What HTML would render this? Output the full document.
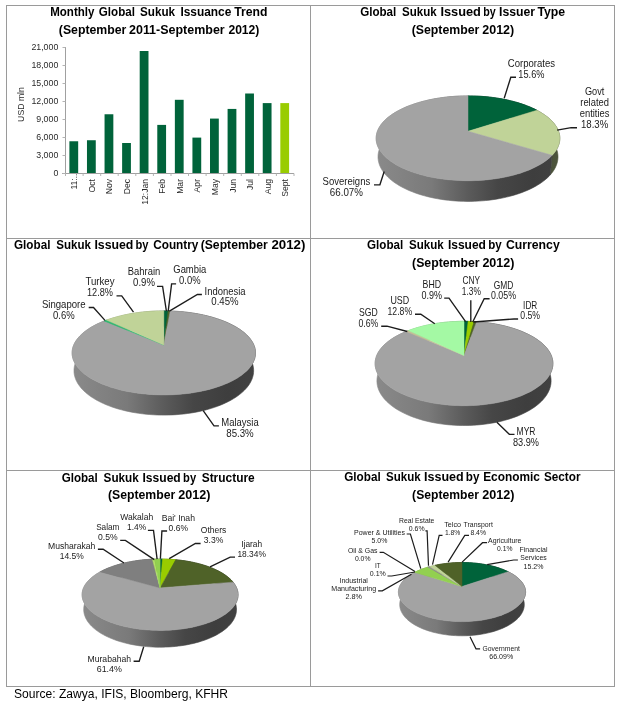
<!DOCTYPE html>
<html><head><meta charset="utf-8"><title>Global Sukuk Issuance</title>
<style>html,body{margin:0;padding:0;background:#fff}svg{display:block}</style></head>
<body>
<svg width="624" height="705" viewBox="0 0 624 705" font-family='"Liberation Sans", Arial, sans-serif'>
<rect width="624" height="705" fill="#fff"/>
<g stroke="#9a9a9a" stroke-width="1" fill="none" shape-rendering="crispEdges">
<rect x="6.5" y="5.5" width="608" height="681"/>
<line x1="310.5" y1="5.5" x2="310.5" y2="686.5"/>
<line x1="6.5" y1="238.5" x2="614.5" y2="238.5"/>
<line x1="6.5" y1="470.5" x2="614.5" y2="470.5"/>
</g>
<text x="50.2" y="16.0" font-size="12" font-weight="bold" textLength="44.2" lengthAdjust="spacingAndGlyphs" fill="#000" xml:space="preserve">Monthly</text>
<text x="98.8" y="16.0" font-size="12" font-weight="bold" textLength="36.1" lengthAdjust="spacingAndGlyphs" fill="#000" xml:space="preserve">Global</text>
<text x="140.0" y="16.0" font-size="12" font-weight="bold" textLength="35.1" lengthAdjust="spacingAndGlyphs" fill="#000" xml:space="preserve">Sukuk</text>
<text x="180.4" y="16.0" font-size="12" font-weight="bold" textLength="50.9" lengthAdjust="spacingAndGlyphs" fill="#000" xml:space="preserve">Issuance</text>
<text x="234.2" y="16.0" font-size="12" font-weight="bold" textLength="33.2" lengthAdjust="spacingAndGlyphs" fill="#000" xml:space="preserve">Trend</text>
<text x="58.8" y="34.0" font-size="12" font-weight="bold" textLength="67.5" lengthAdjust="spacingAndGlyphs" fill="#000" xml:space="preserve">(September</text>
<text x="129.0" y="34.0" font-size="12" font-weight="bold" textLength="95.7" lengthAdjust="spacingAndGlyphs" fill="#000" xml:space="preserve">2011-September</text>
<text x="228.4" y="34.0" font-size="12" font-weight="bold" textLength="31.0" lengthAdjust="spacingAndGlyphs" fill="#000" xml:space="preserve">2012)</text>
<g stroke="#a0a0a0" stroke-width="1" shape-rendering="crispEdges">
<line x1="65.5" y1="47" x2="65.5" y2="173.5"/>
<line x1="62" y1="173.5" x2="294" y2="173.5"/>
</g>
<g stroke="#b4b4b4" stroke-width="1">
<line x1="62.5" y1="47.5" x2="65.5" y2="47.5"/>
<line x1="62.5" y1="65.5" x2="65.5" y2="65.5"/>
<line x1="62.5" y1="83.5" x2="65.5" y2="83.5"/>
<line x1="62.5" y1="101.5" x2="65.5" y2="101.5"/>
<line x1="62.5" y1="119.5" x2="65.5" y2="119.5"/>
<line x1="62.5" y1="137.5" x2="65.5" y2="137.5"/>
<line x1="62.5" y1="155.5" x2="65.5" y2="155.5"/>
<line x1="62.5" y1="173.5" x2="65.5" y2="173.5"/>
<line x1="65.5" y1="173.5" x2="65.5" y2="176"/>
<line x1="83.1" y1="173.5" x2="83.1" y2="176"/>
<line x1="100.7" y1="173.5" x2="100.7" y2="176"/>
<line x1="118.2" y1="173.5" x2="118.2" y2="176"/>
<line x1="135.8" y1="173.5" x2="135.8" y2="176"/>
<line x1="153.4" y1="173.5" x2="153.4" y2="176"/>
<line x1="171.0" y1="173.5" x2="171.0" y2="176"/>
<line x1="188.5" y1="173.5" x2="188.5" y2="176"/>
<line x1="206.1" y1="173.5" x2="206.1" y2="176"/>
<line x1="223.7" y1="173.5" x2="223.7" y2="176"/>
<line x1="241.3" y1="173.5" x2="241.3" y2="176"/>
<line x1="258.8" y1="173.5" x2="258.8" y2="176"/>
<line x1="276.4" y1="173.5" x2="276.4" y2="176"/>
<line x1="294.0" y1="173.5" x2="294.0" y2="176"/>
</g>
<text x="58.3" y="50.2" font-size="8.8" text-anchor="end" fill="#2a2a2a" xml:space="preserve">21,000</text>
<text x="58.3" y="68.2" font-size="8.8" text-anchor="end" fill="#2a2a2a" xml:space="preserve">18,000</text>
<text x="58.3" y="86.2" font-size="8.8" text-anchor="end" fill="#2a2a2a" xml:space="preserve">15,000</text>
<text x="58.3" y="104.2" font-size="8.8" text-anchor="end" fill="#2a2a2a" xml:space="preserve">12,000</text>
<text x="58.3" y="122.2" font-size="8.8" text-anchor="end" fill="#2a2a2a" xml:space="preserve">9,000</text>
<text x="58.3" y="140.2" font-size="8.8" text-anchor="end" fill="#2a2a2a" xml:space="preserve">6,000</text>
<text x="58.3" y="158.2" font-size="8.8" text-anchor="end" fill="#2a2a2a" xml:space="preserve">3,000</text>
<text x="58.3" y="176.2" font-size="8.8" text-anchor="end" fill="#2a2a2a" xml:space="preserve">0</text>
<rect x="69.39" y="141.26" width="8.79" height="31.74" fill="#00633a"/>
<text transform="translate(77.3,173.5) rotate(-90)" font-size="8.6" text-anchor="end" fill="#2a2a2a">11:..</text>
<rect x="86.97" y="140.24" width="8.79" height="32.76" fill="#00633a"/>
<text transform="translate(94.9,179) rotate(-90)" font-size="8.6" text-anchor="end" fill="#2a2a2a">Oct</text>
<rect x="104.55" y="114.26" width="8.79" height="58.74" fill="#00633a"/>
<text transform="translate(112.4,179) rotate(-90)" font-size="8.6" text-anchor="end" fill="#2a2a2a">Nov</text>
<rect x="122.12" y="143.00" width="8.79" height="30.00" fill="#00633a"/>
<text transform="translate(130.0,179) rotate(-90)" font-size="8.6" text-anchor="end" fill="#2a2a2a">Dec</text>
<rect x="139.70" y="51.00" width="8.79" height="122.00" fill="#00633a"/>
<text transform="translate(147.6,179) rotate(-90)" font-size="8.6" text-anchor="end" fill="#2a2a2a">12:Jan</text>
<rect x="157.28" y="124.90" width="8.79" height="48.10" fill="#00633a"/>
<text transform="translate(165.2,179) rotate(-90)" font-size="8.6" text-anchor="end" fill="#2a2a2a">Feb</text>
<rect x="174.86" y="99.80" width="8.79" height="73.20" fill="#00633a"/>
<text transform="translate(182.8,179) rotate(-90)" font-size="8.6" text-anchor="end" fill="#2a2a2a">Mar</text>
<rect x="192.43" y="137.60" width="8.79" height="35.40" fill="#00633a"/>
<text transform="translate(200.3,179) rotate(-90)" font-size="8.6" text-anchor="end" fill="#2a2a2a">Apr</text>
<rect x="210.01" y="118.58" width="8.79" height="54.42" fill="#00633a"/>
<text transform="translate(217.9,179) rotate(-90)" font-size="8.6" text-anchor="end" fill="#2a2a2a">May</text>
<rect x="227.59" y="108.92" width="8.79" height="64.08" fill="#00633a"/>
<text transform="translate(235.5,179) rotate(-90)" font-size="8.6" text-anchor="end" fill="#2a2a2a">Jun</text>
<rect x="245.16" y="93.50" width="8.79" height="79.50" fill="#00633a"/>
<text transform="translate(253.1,179) rotate(-90)" font-size="8.6" text-anchor="end" fill="#2a2a2a">Jul</text>
<rect x="262.74" y="103.10" width="8.79" height="69.90" fill="#00633a"/>
<text transform="translate(270.6,179) rotate(-90)" font-size="8.6" text-anchor="end" fill="#2a2a2a">Aug</text>
<rect x="280.32" y="103.10" width="8.79" height="69.90" fill="#99cc00"/>
<text transform="translate(288.2,179) rotate(-90)" font-size="8.6" text-anchor="end" fill="#2a2a2a">Sept</text>
<text transform="translate(23.8,104.5) rotate(-90)" font-size="8.7" text-anchor="middle" fill="#2a2a2a">USD mln</text>
<text x="360.2" y="16.0" font-size="12" font-weight="bold" textLength="36.1" lengthAdjust="spacingAndGlyphs" fill="#000" xml:space="preserve">Global</text>
<text x="402.1" y="16.0" font-size="12" font-weight="bold" textLength="34.6" lengthAdjust="spacingAndGlyphs" fill="#000" xml:space="preserve">Sukuk</text>
<text x="440.4" y="16.0" font-size="12" font-weight="bold" textLength="40.5" lengthAdjust="spacingAndGlyphs" fill="#000" xml:space="preserve">Issued</text>
<text x="483.2" y="16.0" font-size="12" font-weight="bold" textLength="12.5" lengthAdjust="spacingAndGlyphs" fill="#000" xml:space="preserve">by</text>
<text x="499.0" y="16.0" font-size="12" font-weight="bold" textLength="36.1" lengthAdjust="spacingAndGlyphs" fill="#000" xml:space="preserve">Issuer</text>
<text x="537.4" y="16.0" font-size="12" font-weight="bold" textLength="27.7" lengthAdjust="spacingAndGlyphs" fill="#000" xml:space="preserve">Type</text>
<text x="411.7" y="34.0" font-size="12" font-weight="bold" textLength="67.7" lengthAdjust="spacingAndGlyphs" fill="#000" xml:space="preserve">(September</text>
<text x="482.3" y="34.0" font-size="12" font-weight="bold" textLength="31.9" lengthAdjust="spacingAndGlyphs" fill="#000" xml:space="preserve">2012)</text>
<defs>
<linearGradient id="g1_0" gradientUnits="userSpaceOnUse" x1="376.1" y1="0" x2="559.9" y2="0"><stop offset="0" stop-color="#005431"/><stop offset="0.3" stop-color="#004a2b"/><stop offset="0.5" stop-color="#003720"/><stop offset="0.66" stop-color="#002a18"/><stop offset="0.85" stop-color="#002616"/><stop offset="1" stop-color="#002717"/></linearGradient>
<linearGradient id="g1_1" gradientUnits="userSpaceOnUse" x1="376.1" y1="0" x2="559.9" y2="0"><stop offset="0" stop-color="#8a8a8a"/><stop offset="0.3" stop-color="#7a7a7a"/><stop offset="0.5" stop-color="#5b5b5b"/><stop offset="0.66" stop-color="#464646"/><stop offset="0.85" stop-color="#3e3e3e"/><stop offset="1" stop-color="#414141"/></linearGradient>
<linearGradient id="g1_2" gradientUnits="userSpaceOnUse" x1="376.1" y1="0" x2="559.9" y2="0"><stop offset="0" stop-color="#a3b381"/><stop offset="0.3" stop-color="#909e72"/><stop offset="0.5" stop-color="#6b7655"/><stop offset="0.66" stop-color="#525a41"/><stop offset="0.85" stop-color="#49513a"/><stop offset="1" stop-color="#4c543c"/></linearGradient>
</defs>
<path d="M468.00,95.90 L470.72,95.92 L473.44,95.97 L476.16,96.07 L478.87,96.20 L481.57,96.37 L484.27,96.57 L486.95,96.81 L489.62,97.09 L492.27,97.41 L494.91,97.76 L497.52,98.15 L500.12,98.58 L502.69,99.04 L505.23,99.54 L507.75,100.08 L510.24,100.65 L512.69,101.26 L515.11,101.90 L517.50,102.58 L519.84,103.30 L522.15,104.05 L524.41,104.84 L526.62,105.66 L528.79,106.52 L530.91,107.41 L532.97,108.33 L534.98,109.29 L536.93,110.28 L535.69,127.46 L533.78,126.42 L531.81,125.41 L529.79,124.43 L527.71,123.49 L525.59,122.59 L523.42,121.72 L521.20,120.89 L518.94,120.09 L516.64,119.33 L514.30,118.62 L511.92,117.93 L509.51,117.29 L507.07,116.68 L504.59,116.12 L502.09,115.59 L499.57,115.10 L497.02,114.65 L494.45,114.23 L491.86,113.86 L489.25,113.53 L486.63,113.23 L483.99,112.98 L481.34,112.76 L478.69,112.58 L476.02,112.44 L473.35,112.35 L470.68,112.29 L468.00,112.27Z" fill="url(#g1_0)" stroke="url(#g1_0)" stroke-width="0.6"/>
<path d="M536.93,110.28 L538.87,111.33 L540.74,112.41 L542.54,113.53 L544.27,114.68 L545.93,115.86 L547.51,117.07 L549.00,118.31 L550.42,119.58 L551.74,120.88 L552.98,122.21 L554.12,123.56 L555.17,124.94 L556.12,126.34 L556.97,127.77 L557.72,129.21 L558.35,130.68 L558.88,132.16 L559.30,133.66 L559.60,135.18 L559.78,136.70 L559.85,138.24 L559.79,139.79 L559.61,141.35 L559.30,142.91 L558.87,144.48 L558.31,146.04 L557.61,147.61 L556.78,149.17 L555.82,150.72 L554.73,152.26 L553.50,153.79 L552.13,155.31 L550.33,174.84 L551.67,173.25 L552.89,171.64 L553.97,170.02 L554.92,168.39 L555.74,166.76 L556.43,165.11 L557.00,163.47 L557.43,161.83 L557.74,160.19 L557.93,158.55 L558.00,156.92 L557.95,155.30 L557.78,153.70 L557.49,152.10 L557.09,150.53 L556.59,148.96 L555.97,147.42 L555.25,145.90 L554.43,144.40 L553.50,142.92 L552.48,141.47 L551.37,140.05 L550.17,138.65 L548.87,137.28 L547.50,135.94 L546.03,134.63 L544.49,133.35 L542.87,132.10 L541.18,130.89 L539.42,129.71 L537.59,128.57 L535.69,127.46Z" fill="url(#g1_2)" stroke="url(#g1_2)" stroke-width="0.6"/>
<path d="M552.13,155.31 L550.67,156.78 L549.07,158.23 L547.35,159.66 L545.50,161.06 L543.52,162.43 L541.42,163.78 L539.19,165.09 L536.84,166.37 L534.38,167.61 L531.80,168.80 L529.10,169.96 L526.30,171.06 L523.39,172.12 L520.39,173.13 L517.28,174.08 L514.09,174.98 L510.80,175.81 L507.44,176.59 L504.01,177.31 L500.50,177.96 L496.93,178.54 L493.31,179.06 L489.63,179.51 L485.92,179.89 L482.17,180.19 L478.39,180.43 L474.59,180.59 L470.78,180.68 L466.96,180.70 L463.14,180.64 L459.34,180.51 L455.55,180.31 L451.79,180.03 L448.05,179.69 L444.36,179.27 L440.71,178.79 L437.12,178.23 L433.58,177.61 L430.11,176.92 L426.72,176.18 L423.40,175.37 L420.16,174.50 L417.02,173.57 L413.96,172.59 L411.01,171.55 L408.16,170.47 L405.42,169.33 L402.78,168.16 L400.27,166.94 L397.86,165.68 L395.58,164.38 L393.42,163.05 L391.39,161.69 L389.48,160.30 L387.70,158.88 L386.04,157.44 L384.52,155.98 L383.12,154.50 L381.86,153.01 L380.72,151.50 L379.71,149.99 L378.83,148.46 L378.08,146.94 L377.45,145.40 L376.95,143.87 L376.57,142.34 L376.31,140.81 L376.18,139.29 L376.16,137.78 L376.26,136.27 L376.47,134.78 L376.79,133.30 L377.22,131.83 L377.76,130.38 L378.41,128.95 L379.16,127.54 L380.00,126.15 L380.95,124.78 L381.98,123.43 L383.11,122.11 L384.33,120.81 L385.63,119.54 L387.01,118.30 L388.48,117.08 L390.02,115.89 L391.64,114.74 L393.33,113.61 L395.09,112.51 L396.91,111.45 L398.80,110.42 L400.76,109.42 L402.77,108.45 L404.83,107.52 L406.95,106.62 L409.13,105.76 L411.35,104.93 L413.61,104.13 L415.93,103.37 L418.28,102.65 L420.67,101.96 L423.10,101.31 L425.57,100.70 L428.06,100.12 L430.59,99.58 L433.15,99.07 L435.73,98.60 L438.33,98.17 L440.96,97.78 L443.61,97.42 L446.28,97.10 L448.96,96.82 L451.65,96.58 L454.36,96.37 L457.07,96.20 L459.80,96.07 L462.53,95.98 L465.26,95.92 L468.00,95.90 L468.00,112.27 L465.31,112.29 L462.62,112.35 L459.94,112.45 L457.26,112.59 L454.59,112.76 L451.93,112.98 L449.28,113.24 L446.64,113.54 L444.02,113.88 L441.42,114.25 L438.84,114.67 L436.28,115.13 L433.74,115.62 L431.23,116.16 L428.75,116.73 L426.30,117.34 L423.88,117.99 L421.49,118.68 L419.14,119.40 L416.83,120.17 L414.57,120.97 L412.34,121.81 L410.16,122.69 L408.03,123.60 L405.96,124.55 L403.93,125.53 L401.96,126.55 L400.05,127.61 L398.20,128.70 L396.41,129.82 L394.69,130.98 L393.04,132.17 L391.46,133.39 L389.95,134.64 L388.52,135.92 L387.17,137.24 L385.90,138.58 L384.71,139.94 L383.62,141.34 L382.61,142.75 L381.69,144.20 L380.87,145.66 L380.15,147.15 L379.53,148.66 L379.01,150.18 L378.59,151.72 L378.29,153.28 L378.09,154.85 L378.00,156.43 L378.03,158.02 L378.18,159.62 L378.44,161.23 L378.82,162.83 L379.32,164.44 L379.95,166.05 L380.69,167.66 L381.57,169.26 L382.56,170.85 L383.69,172.43 L384.94,173.99 L386.31,175.54 L387.81,177.07 L389.44,178.58 L391.19,180.06 L393.07,181.52 L395.07,182.95 L397.19,184.34 L399.42,185.70 L401.78,187.01 L404.25,188.29 L406.83,189.52 L409.51,190.71 L412.30,191.84 L415.19,192.92 L418.18,193.95 L421.26,194.92 L424.42,195.83 L427.67,196.67 L430.99,197.46 L434.38,198.17 L437.83,198.82 L441.35,199.40 L444.91,199.91 L448.52,200.34 L452.16,200.70 L455.84,200.99 L459.54,201.20 L463.26,201.34 L466.98,201.40 L470.71,201.38 L474.44,201.29 L478.15,201.12 L481.84,200.87 L485.50,200.55 L489.13,200.15 L492.72,199.69 L496.26,199.15 L499.75,198.54 L503.17,197.86 L506.53,197.11 L509.82,196.30 L513.03,195.42 L516.15,194.48 L519.19,193.49 L522.13,192.44 L524.98,191.33 L527.72,190.17 L530.36,188.97 L532.89,187.71 L535.31,186.42 L537.61,185.08 L539.79,183.71 L541.86,182.30 L543.80,180.86 L545.62,179.39 L547.31,177.90 L548.88,176.38 L550.33,174.84Z" fill="url(#g1_1)" stroke="url(#g1_1)" stroke-width="0.6"/>
<path d="M468.00,131.30 L468.00,95.90 L470.72,95.92 L473.44,95.97 L476.16,96.07 L478.87,96.20 L481.57,96.37 L484.27,96.57 L486.95,96.81 L489.62,97.09 L492.27,97.41 L494.91,97.76 L497.52,98.15 L500.12,98.58 L502.69,99.04 L505.23,99.54 L507.75,100.08 L510.24,100.65 L512.69,101.26 L515.11,101.90 L517.50,102.58 L519.84,103.30 L522.15,104.05 L524.41,104.84 L526.62,105.66 L528.79,106.52 L530.91,107.41 L532.97,108.33 L534.98,109.29 L536.93,110.28Z" fill="#00633a" stroke="#00633a" stroke-width="0.5" stroke-linejoin="round"/>
<path d="M468.00,131.30 L536.93,110.28 L538.87,111.33 L540.74,112.41 L542.54,113.53 L544.27,114.68 L545.93,115.86 L547.51,117.07 L549.00,118.31 L550.42,119.58 L551.74,120.88 L552.98,122.21 L554.12,123.56 L555.17,124.94 L556.12,126.34 L556.97,127.77 L557.72,129.21 L558.35,130.68 L558.88,132.16 L559.30,133.66 L559.60,135.18 L559.78,136.70 L559.85,138.24 L559.79,139.79 L559.61,141.35 L559.30,142.91 L558.87,144.48 L558.31,146.04 L557.61,147.61 L556.78,149.17 L555.82,150.72 L554.73,152.26 L553.50,153.79 L552.13,155.31Z" fill="#c0d398" stroke="#c0d398" stroke-width="0.5" stroke-linejoin="round"/>
<path d="M468.00,131.30 L552.13,155.31 L550.67,156.78 L549.07,158.23 L547.35,159.66 L545.50,161.06 L543.52,162.43 L541.42,163.78 L539.19,165.09 L536.84,166.37 L534.38,167.61 L531.80,168.80 L529.10,169.96 L526.30,171.06 L523.39,172.12 L520.39,173.13 L517.28,174.08 L514.09,174.98 L510.80,175.81 L507.44,176.59 L504.01,177.31 L500.50,177.96 L496.93,178.54 L493.31,179.06 L489.63,179.51 L485.92,179.89 L482.17,180.19 L478.39,180.43 L474.59,180.59 L470.78,180.68 L466.96,180.70 L463.14,180.64 L459.34,180.51 L455.55,180.31 L451.79,180.03 L448.05,179.69 L444.36,179.27 L440.71,178.79 L437.12,178.23 L433.58,177.61 L430.11,176.92 L426.72,176.18 L423.40,175.37 L420.16,174.50 L417.02,173.57 L413.96,172.59 L411.01,171.55 L408.16,170.47 L405.42,169.33 L402.78,168.16 L400.27,166.94 L397.86,165.68 L395.58,164.38 L393.42,163.05 L391.39,161.69 L389.48,160.30 L387.70,158.88 L386.04,157.44 L384.52,155.98 L383.12,154.50 L381.86,153.01 L380.72,151.50 L379.71,149.99 L378.83,148.46 L378.08,146.94 L377.45,145.40 L376.95,143.87 L376.57,142.34 L376.31,140.81 L376.18,139.29 L376.16,137.78 L376.26,136.27 L376.47,134.78 L376.79,133.30 L377.22,131.83 L377.76,130.38 L378.41,128.95 L379.16,127.54 L380.00,126.15 L380.95,124.78 L381.98,123.43 L383.11,122.11 L384.33,120.81 L385.63,119.54 L387.01,118.30 L388.48,117.08 L390.02,115.89 L391.64,114.74 L393.33,113.61 L395.09,112.51 L396.91,111.45 L398.80,110.42 L400.76,109.42 L402.77,108.45 L404.83,107.52 L406.95,106.62 L409.13,105.76 L411.35,104.93 L413.61,104.13 L415.93,103.37 L418.28,102.65 L420.67,101.96 L423.10,101.31 L425.57,100.70 L428.06,100.12 L430.59,99.58 L433.15,99.07 L435.73,98.60 L438.33,98.17 L440.96,97.78 L443.61,97.42 L446.28,97.10 L448.96,96.82 L451.65,96.58 L454.36,96.37 L457.07,96.20 L459.80,96.07 L462.53,95.98 L465.26,95.92 L468.00,95.90Z" fill="#a3a3a3" stroke="#a3a3a3" stroke-width="0.5" stroke-linejoin="round"/>
<path d="M504.2,98.3 L510.8,77.2 L516.0,77.2" fill="none" stroke="#1c1c1c" stroke-width="1.35" stroke-linejoin="miter"/>
<text x="531.4" y="66.8" font-size="10.3" text-anchor="middle" textLength="47.3" lengthAdjust="spacingAndGlyphs" fill="#1a1a1a" xml:space="preserve">Corporates</text>
<text x="531.4" y="77.6" font-size="10.3" text-anchor="middle" textLength="26.1" lengthAdjust="spacingAndGlyphs" fill="#1a1a1a" xml:space="preserve">15.6%</text>
<path d="M557.1,130.2 L571.2,127.7 L577.0,127.7" fill="none" stroke="#1c1c1c" stroke-width="1.35" stroke-linejoin="miter"/>
<text x="594.6" y="94.8" font-size="10.3" text-anchor="middle" textLength="19.4" lengthAdjust="spacingAndGlyphs" fill="#1a1a1a" xml:space="preserve">Govt</text>
<text x="594.6" y="105.8" font-size="10.3" text-anchor="middle" textLength="28.7" lengthAdjust="spacingAndGlyphs" fill="#1a1a1a" xml:space="preserve">related</text>
<text x="594.6" y="116.7" font-size="10.3" text-anchor="middle" textLength="29.8" lengthAdjust="spacingAndGlyphs" fill="#1a1a1a" xml:space="preserve">entities</text>
<text x="594.6" y="127.6" font-size="10.3" text-anchor="middle" textLength="27.3" lengthAdjust="spacingAndGlyphs" fill="#1a1a1a" xml:space="preserve">18.3%</text>
<path d="M384.2,171.5 L379.9,184.8 L374.0,184.8" fill="none" stroke="#1c1c1c" stroke-width="1.35" stroke-linejoin="miter"/>
<text x="346.4" y="185.3" font-size="10.3" text-anchor="middle" textLength="47.6" lengthAdjust="spacingAndGlyphs" fill="#1a1a1a" xml:space="preserve">Sovereigns</text>
<text x="346.4" y="196.3" font-size="10.3" text-anchor="middle" textLength="33.1" lengthAdjust="spacingAndGlyphs" fill="#1a1a1a" xml:space="preserve">66.07%</text>
<text x="14.0" y="249.0" font-size="12" font-weight="bold" textLength="36.4" lengthAdjust="spacingAndGlyphs" fill="#000" xml:space="preserve">Global</text>
<text x="56.3" y="249.0" font-size="12" font-weight="bold" textLength="34.6" lengthAdjust="spacingAndGlyphs" fill="#000" xml:space="preserve">Sukuk</text>
<text x="94.4" y="249.0" font-size="12" font-weight="bold" textLength="39.0" lengthAdjust="spacingAndGlyphs" fill="#000" xml:space="preserve">Issued</text>
<text x="135.4" y="249.0" font-size="12" font-weight="bold" textLength="13.0" lengthAdjust="spacingAndGlyphs" fill="#000" xml:space="preserve">by</text>
<text x="153.2" y="249.0" font-size="12" font-weight="bold" textLength="45.2" lengthAdjust="spacingAndGlyphs" fill="#000" xml:space="preserve">Country</text>
<text x="200.7" y="249.0" font-size="12" font-weight="bold" textLength="67.0" lengthAdjust="spacingAndGlyphs" fill="#000" xml:space="preserve">(September</text>
<text x="271.4" y="249.0" font-size="12" font-weight="bold" textLength="34.0" lengthAdjust="spacingAndGlyphs" fill="#000" xml:space="preserve">2012)</text>
<defs>
<linearGradient id="g2_0" gradientUnits="userSpaceOnUse" x1="72.1" y1="0" x2="255.5" y2="0"><stop offset="0" stop-color="#005431"/><stop offset="0.3" stop-color="#004a2b"/><stop offset="0.5" stop-color="#003720"/><stop offset="0.66" stop-color="#002a18"/><stop offset="0.85" stop-color="#002616"/><stop offset="1" stop-color="#002717"/></linearGradient>
<linearGradient id="g2_1" gradientUnits="userSpaceOnUse" x1="72.1" y1="0" x2="255.5" y2="0"><stop offset="0" stop-color="#279c60"/><stop offset="0.3" stop-color="#228a55"/><stop offset="0.5" stop-color="#19673f"/><stop offset="0.66" stop-color="#134f31"/><stop offset="0.85" stop-color="#11462b"/><stop offset="1" stop-color="#12492d"/></linearGradient>
<linearGradient id="g2_2" gradientUnits="userSpaceOnUse" x1="72.1" y1="0" x2="255.5" y2="0"><stop offset="0" stop-color="#435322"/><stop offset="0.3" stop-color="#3b491e"/><stop offset="0.5" stop-color="#2c3616"/><stop offset="0.66" stop-color="#212a11"/><stop offset="0.85" stop-color="#1e250f"/><stop offset="1" stop-color="#1f2710"/></linearGradient>
<linearGradient id="g2_3" gradientUnits="userSpaceOnUse" x1="72.1" y1="0" x2="255.5" y2="0"><stop offset="0" stop-color="#8a8a8a"/><stop offset="0.3" stop-color="#7a7a7a"/><stop offset="0.5" stop-color="#5b5b5b"/><stop offset="0.66" stop-color="#464646"/><stop offset="0.85" stop-color="#3e3e3e"/><stop offset="1" stop-color="#414141"/></linearGradient>
<linearGradient id="g2_4" gradientUnits="userSpaceOnUse" x1="72.1" y1="0" x2="255.5" y2="0"><stop offset="0" stop-color="#a3b381"/><stop offset="0.3" stop-color="#909e72"/><stop offset="0.5" stop-color="#6b7655"/><stop offset="0.66" stop-color="#525a41"/><stop offset="0.85" stop-color="#49513a"/><stop offset="1" stop-color="#4c543c"/></linearGradient>
</defs>
<path d="M163.80,310.90 L168.07,310.95 L168.00,326.19 L163.80,326.14Z" fill="url(#g2_0)" stroke="url(#g2_0)" stroke-width="0.6"/>
<path d="M168.07,310.95 L170.21,311.00 L170.10,326.25 L168.00,326.19Z" fill="url(#g2_2)" stroke="url(#g2_2)" stroke-width="0.6"/>
<path d="M170.21,311.00 L172.85,311.11 L175.49,311.24 L178.12,311.41 L180.73,311.62 L183.34,311.86 L185.94,312.14 L188.52,312.45 L191.08,312.80 L193.63,313.18 L196.16,313.60 L198.66,314.05 L201.14,314.54 L203.60,315.06 L206.02,315.62 L208.42,316.21 L210.79,316.83 L213.12,317.49 L215.42,318.19 L217.68,318.91 L219.90,319.68 L222.07,320.47 L224.21,321.30 L226.29,322.16 L228.33,323.06 L230.31,323.99 L232.24,324.95 L234.11,325.94 L235.92,326.96 L237.68,328.02 L239.36,329.10 L240.98,330.22 L242.53,331.37 L244.01,332.54 L245.41,333.75 L246.73,334.98 L247.97,336.23 L249.13,337.52 L250.20,338.83 L251.18,340.16 L252.07,341.52 L252.86,342.90 L253.55,344.29 L254.15,345.71 L254.64,347.15 L255.02,348.60 L255.29,350.07 L255.45,351.55 L255.50,353.05 L255.43,354.55 L255.24,356.06 L254.93,357.58 L254.50,359.10 L253.94,360.62 L253.25,362.15 L252.44,363.67 L251.49,365.18 L250.42,366.69 L249.21,368.19 L247.87,369.67 L246.40,371.14 L244.80,372.59 L243.06,374.02 L241.19,375.43 L239.19,376.81 L237.07,378.16 L234.81,379.47 L232.43,380.75 L229.93,382.00 L227.31,383.20 L224.57,384.35 L221.71,385.46 L218.75,386.52 L215.68,387.53 L212.51,388.48 L209.25,389.38 L205.90,390.21 L202.46,390.98 L198.95,391.69 L195.36,392.33 L191.71,392.91 L188.01,393.41 L184.25,393.84 L180.45,394.20 L176.62,394.49 L172.76,394.70 L168.88,394.84 L164.99,394.90 L161.10,394.88 L157.22,394.79 L153.35,394.63 L149.50,394.39 L145.68,394.07 L141.89,393.68 L138.16,393.22 L134.47,392.69 L130.85,392.09 L127.29,391.43 L123.80,390.69 L120.40,389.90 L117.08,389.04 L113.85,388.12 L110.72,387.15 L107.69,386.12 L104.77,385.04 L101.96,383.91 L99.27,382.74 L96.69,381.52 L94.23,380.26 L91.90,378.97 L89.70,377.64 L87.62,376.28 L85.67,374.89 L83.85,373.47 L82.17,372.03 L80.62,370.58 L79.20,369.10 L77.91,367.61 L76.75,366.11 L75.73,364.60 L74.83,363.08 L74.07,361.56 L73.43,360.04 L72.92,358.51 L72.54,356.99 L72.27,355.48 L72.13,353.97 L72.10,352.47 L72.20,350.98 L72.40,349.50 L72.72,348.04 L73.14,346.59 L73.67,345.16 L74.30,343.75 L75.03,342.36 L75.86,340.99 L76.79,339.64 L77.80,338.32 L78.91,337.02 L80.10,335.75 L81.37,334.50 L82.72,333.28 L84.15,332.08 L85.66,330.92 L87.24,329.79 L88.88,328.68 L90.59,327.61 L92.37,326.56 L94.21,325.55 L96.10,324.57 L98.05,323.62 L100.05,322.71 L102.11,321.83 L104.21,320.98 L105.25,336.89 L103.19,337.79 L101.18,338.73 L99.21,339.71 L97.30,340.72 L95.45,341.76 L93.65,342.84 L91.91,343.95 L90.24,345.09 L88.63,346.26 L87.09,347.47 L85.62,348.71 L84.23,349.98 L82.91,351.27 L81.67,352.60 L80.51,353.95 L79.44,355.33 L78.45,356.74 L77.56,358.17 L76.75,359.62 L76.05,361.10 L75.44,362.59 L74.93,364.11 L74.53,365.64 L74.23,367.19 L74.04,368.76 L73.97,370.34 L74.00,371.92 L74.15,373.52 L74.42,375.13 L74.82,376.73 L75.33,378.35 L75.96,379.96 L76.72,381.56 L77.61,383.17 L78.63,384.77 L79.77,386.35 L81.04,387.92 L82.44,389.48 L83.97,391.02 L85.63,392.54 L87.41,394.03 L89.33,395.50 L91.37,396.93 L93.53,398.33 L95.82,399.70 L98.23,401.02 L100.75,402.31 L103.39,403.54 L106.14,404.73 L109.00,405.87 L111.96,406.95 L115.02,407.97 L118.18,408.94 L121.42,409.84 L124.75,410.68 L128.16,411.45 L131.63,412.15 L135.17,412.78 L138.77,413.34 L142.42,413.82 L146.11,414.23 L149.84,414.56 L153.60,414.81 L157.38,414.99 L161.17,415.08 L164.97,415.10 L168.76,415.03 L172.54,414.89 L176.31,414.67 L180.05,414.37 L183.76,413.99 L187.43,413.53 L191.05,413.01 L194.61,412.40 L198.11,411.73 L201.54,410.98 L204.90,410.17 L208.18,409.29 L211.37,408.35 L214.47,407.35 L217.47,406.29 L220.37,405.18 L223.16,404.01 L225.84,402.79 L228.41,401.52 L230.87,400.22 L233.20,398.87 L235.41,397.48 L237.50,396.06 L239.46,394.60 L241.30,393.12 L243.01,391.61 L244.58,390.08 L246.03,388.53 L247.36,386.96 L248.55,385.38 L249.61,383.79 L250.55,382.19 L251.36,380.58 L252.04,378.97 L252.60,377.36 L253.04,375.75 L253.36,374.14 L253.55,372.54 L253.63,370.95 L253.60,369.37 L253.46,367.80 L253.20,366.24 L252.84,364.70 L252.37,363.18 L251.80,361.67 L251.13,360.19 L250.36,358.73 L249.50,357.29 L248.55,355.87 L247.51,354.48 L246.39,353.12 L245.18,351.78 L243.89,350.47 L242.52,349.19 L241.08,347.95 L239.57,346.73 L237.99,345.54 L236.34,344.38 L234.63,343.26 L232.85,342.17 L231.02,341.12 L229.13,340.09 L227.19,339.10 L225.19,338.15 L223.15,337.23 L221.06,336.35 L218.93,335.50 L216.75,334.69 L214.53,333.92 L212.28,333.18 L209.99,332.47 L207.66,331.81 L205.31,331.18 L202.92,330.58 L200.51,330.03 L198.07,329.51 L195.61,329.03 L193.13,328.58 L190.63,328.17 L188.11,327.80 L185.57,327.47 L183.02,327.17 L180.45,326.92 L177.88,326.69 L175.29,326.51 L172.70,326.36 L170.10,326.25Z" fill="url(#g2_3)" stroke="url(#g2_3)" stroke-width="0.6"/>
<path d="M104.21,320.98 L106.53,320.10 L107.52,335.95 L105.25,336.89Z" fill="url(#g2_1)" stroke="url(#g2_1)" stroke-width="0.6"/>
<path d="M106.53,320.10 L108.72,319.32 L110.95,318.58 L113.23,317.87 L115.54,317.19 L117.88,316.55 L120.26,315.94 L122.66,315.36 L125.10,314.82 L127.56,314.32 L130.05,313.85 L132.56,313.41 L135.09,313.01 L137.64,312.65 L140.21,312.31 L142.79,312.02 L145.39,311.76 L148.00,311.53 L150.61,311.34 L153.24,311.18 L155.88,311.06 L158.51,310.97 L161.16,310.92 L163.80,310.90 L163.80,326.14 L161.20,326.16 L158.60,326.22 L156.01,326.31 L153.42,326.44 L150.83,326.61 L148.26,326.82 L145.69,327.06 L143.14,327.34 L140.60,327.65 L138.08,328.01 L135.57,328.40 L133.08,328.83 L130.62,329.29 L128.17,329.79 L125.75,330.33 L123.36,330.91 L121.00,331.52 L118.66,332.17 L116.36,332.85 L114.09,333.57 L111.86,334.33 L109.67,335.12 L107.52,335.95Z" fill="url(#g2_4)" stroke="url(#g2_4)" stroke-width="0.6"/>
<path d="M163.80,344.92 L163.80,310.90 L168.07,310.95Z" fill="#00633a" stroke="#00633a" stroke-width="0.5" stroke-linejoin="round"/>
<path d="M163.80,344.92 L168.07,310.95 L170.21,311.00Z" fill="#4f6228" stroke="#4f6228" stroke-width="0.5" stroke-linejoin="round"/>
<path d="M163.80,344.92 L170.21,311.00 L172.85,311.11 L175.49,311.24 L178.12,311.41 L180.73,311.62 L183.34,311.86 L185.94,312.14 L188.52,312.45 L191.08,312.80 L193.63,313.18 L196.16,313.60 L198.66,314.05 L201.14,314.54 L203.60,315.06 L206.02,315.62 L208.42,316.21 L210.79,316.83 L213.12,317.49 L215.42,318.19 L217.68,318.91 L219.90,319.68 L222.07,320.47 L224.21,321.30 L226.29,322.16 L228.33,323.06 L230.31,323.99 L232.24,324.95 L234.11,325.94 L235.92,326.96 L237.68,328.02 L239.36,329.10 L240.98,330.22 L242.53,331.37 L244.01,332.54 L245.41,333.75 L246.73,334.98 L247.97,336.23 L249.13,337.52 L250.20,338.83 L251.18,340.16 L252.07,341.52 L252.86,342.90 L253.55,344.29 L254.15,345.71 L254.64,347.15 L255.02,348.60 L255.29,350.07 L255.45,351.55 L255.50,353.05 L255.43,354.55 L255.24,356.06 L254.93,357.58 L254.50,359.10 L253.94,360.62 L253.25,362.15 L252.44,363.67 L251.49,365.18 L250.42,366.69 L249.21,368.19 L247.87,369.67 L246.40,371.14 L244.80,372.59 L243.06,374.02 L241.19,375.43 L239.19,376.81 L237.07,378.16 L234.81,379.47 L232.43,380.75 L229.93,382.00 L227.31,383.20 L224.57,384.35 L221.71,385.46 L218.75,386.52 L215.68,387.53 L212.51,388.48 L209.25,389.38 L205.90,390.21 L202.46,390.98 L198.95,391.69 L195.36,392.33 L191.71,392.91 L188.01,393.41 L184.25,393.84 L180.45,394.20 L176.62,394.49 L172.76,394.70 L168.88,394.84 L164.99,394.90 L161.10,394.88 L157.22,394.79 L153.35,394.63 L149.50,394.39 L145.68,394.07 L141.89,393.68 L138.16,393.22 L134.47,392.69 L130.85,392.09 L127.29,391.43 L123.80,390.69 L120.40,389.90 L117.08,389.04 L113.85,388.12 L110.72,387.15 L107.69,386.12 L104.77,385.04 L101.96,383.91 L99.27,382.74 L96.69,381.52 L94.23,380.26 L91.90,378.97 L89.70,377.64 L87.62,376.28 L85.67,374.89 L83.85,373.47 L82.17,372.03 L80.62,370.58 L79.20,369.10 L77.91,367.61 L76.75,366.11 L75.73,364.60 L74.83,363.08 L74.07,361.56 L73.43,360.04 L72.92,358.51 L72.54,356.99 L72.27,355.48 L72.13,353.97 L72.10,352.47 L72.20,350.98 L72.40,349.50 L72.72,348.04 L73.14,346.59 L73.67,345.16 L74.30,343.75 L75.03,342.36 L75.86,340.99 L76.79,339.64 L77.80,338.32 L78.91,337.02 L80.10,335.75 L81.37,334.50 L82.72,333.28 L84.15,332.08 L85.66,330.92 L87.24,329.79 L88.88,328.68 L90.59,327.61 L92.37,326.56 L94.21,325.55 L96.10,324.57 L98.05,323.62 L100.05,322.71 L102.11,321.83 L104.21,320.98Z" fill="#a3a3a3" stroke="#a3a3a3" stroke-width="0.5" stroke-linejoin="round"/>
<path d="M163.80,344.92 L104.21,320.98 L106.53,320.10Z" fill="#2eb872" stroke="#2eb872" stroke-width="0.5" stroke-linejoin="round"/>
<path d="M163.80,344.92 L106.53,320.10 L108.72,319.32 L110.95,318.58 L113.23,317.87 L115.54,317.19 L117.88,316.55 L120.26,315.94 L122.66,315.36 L125.10,314.82 L127.56,314.32 L130.05,313.85 L132.56,313.41 L135.09,313.01 L137.64,312.65 L140.21,312.31 L142.79,312.02 L145.39,311.76 L148.00,311.53 L150.61,311.34 L153.24,311.18 L155.88,311.06 L158.51,310.97 L161.16,310.92 L163.80,310.90Z" fill="#c0d398" stroke="#c0d398" stroke-width="0.5" stroke-linejoin="round"/>
<path d="M116.5,295.8 L121.7,295.8 L133.5,312.1" fill="none" stroke="#1c1c1c" stroke-width="1.35" stroke-linejoin="miter"/>
<text x="100.0" y="285.4" font-size="10.1" text-anchor="middle" textLength="29.2" lengthAdjust="spacingAndGlyphs" fill="#1a1a1a" xml:space="preserve">Turkey</text>
<text x="100.0" y="296.0" font-size="10.1" text-anchor="middle" textLength="26.0" lengthAdjust="spacingAndGlyphs" fill="#1a1a1a" xml:space="preserve">12.8%</text>
<path d="M88.7,307.5 L93.5,307.5 L105.0,320.4" fill="none" stroke="#1c1c1c" stroke-width="1.35" stroke-linejoin="miter"/>
<text x="63.8" y="307.9" font-size="10.1" text-anchor="middle" textLength="43.7" lengthAdjust="spacingAndGlyphs" fill="#1a1a1a" xml:space="preserve">Singapore</text>
<text x="63.8" y="318.5" font-size="10.1" text-anchor="middle" textLength="21.7" lengthAdjust="spacingAndGlyphs" fill="#1a1a1a" xml:space="preserve">0.6%</text>
<path d="M157.0,286.3 L162.6,286.3 L166.4,311.2" fill="none" stroke="#1c1c1c" stroke-width="1.35" stroke-linejoin="miter"/>
<text x="144.0" y="275.3" font-size="10.1" text-anchor="middle" textLength="32.5" lengthAdjust="spacingAndGlyphs" fill="#1a1a1a" xml:space="preserve">Bahrain</text>
<text x="144.0" y="285.9" font-size="10.1" text-anchor="middle" textLength="21.8" lengthAdjust="spacingAndGlyphs" fill="#1a1a1a" xml:space="preserve">0.9%</text>
<path d="M176.1,283.9 L171.6,283.9 L168.2,311.2" fill="none" stroke="#1c1c1c" stroke-width="1.35" stroke-linejoin="miter"/>
<text x="189.8" y="273.4" font-size="10.1" text-anchor="middle" textLength="33.0" lengthAdjust="spacingAndGlyphs" fill="#1a1a1a" xml:space="preserve">Gambia</text>
<text x="189.8" y="284.0" font-size="10.1" text-anchor="middle" textLength="21.5" lengthAdjust="spacingAndGlyphs" fill="#1a1a1a" xml:space="preserve">0.0%</text>
<path d="M201.9,294.5 L197.4,294.5 L169.4,311.2" fill="none" stroke="#1c1c1c" stroke-width="1.35" stroke-linejoin="miter"/>
<text x="225.0" y="294.8" font-size="10.1" text-anchor="middle" textLength="41.0" lengthAdjust="spacingAndGlyphs" fill="#1a1a1a" xml:space="preserve">Indonesia</text>
<text x="225.0" y="305.4" font-size="10.1" text-anchor="middle" textLength="27.3" lengthAdjust="spacingAndGlyphs" fill="#1a1a1a" xml:space="preserve">0.45%</text>
<path d="M203.2,410.7 L214.0,425.8 L218.9,425.8" fill="none" stroke="#1c1c1c" stroke-width="1.35" stroke-linejoin="miter"/>
<text x="240.0" y="425.9" font-size="10.1" text-anchor="middle" textLength="37.5" lengthAdjust="spacingAndGlyphs" fill="#1a1a1a" xml:space="preserve">Malaysia</text>
<text x="240.0" y="436.5" font-size="10.1" text-anchor="middle" textLength="27.5" lengthAdjust="spacingAndGlyphs" fill="#1a1a1a" xml:space="preserve">85.3%</text>
<text x="367.1" y="249.0" font-size="12" font-weight="bold" textLength="36.1" lengthAdjust="spacingAndGlyphs" fill="#000" xml:space="preserve">Global</text>
<text x="409.0" y="249.0" font-size="12" font-weight="bold" textLength="34.6" lengthAdjust="spacingAndGlyphs" fill="#000" xml:space="preserve">Sukuk</text>
<text x="447.9" y="249.0" font-size="12" font-weight="bold" textLength="38.0" lengthAdjust="spacingAndGlyphs" fill="#000" xml:space="preserve">Issued</text>
<text x="488.2" y="249.0" font-size="12" font-weight="bold" textLength="13.5" lengthAdjust="spacingAndGlyphs" fill="#000" xml:space="preserve">by</text>
<text x="505.9" y="249.0" font-size="12" font-weight="bold" textLength="53.8" lengthAdjust="spacingAndGlyphs" fill="#000" xml:space="preserve">Currency</text>
<text x="412.1" y="267.0" font-size="12" font-weight="bold" textLength="67.5" lengthAdjust="spacingAndGlyphs" fill="#000" xml:space="preserve">(September</text>
<text x="482.4" y="267.0" font-size="12" font-weight="bold" textLength="32.0" lengthAdjust="spacingAndGlyphs" fill="#000" xml:space="preserve">2012)</text>
<defs>
<linearGradient id="g3_0" gradientUnits="userSpaceOnUse" x1="375.1" y1="0" x2="552.9" y2="0"><stop offset="0" stop-color="#005431"/><stop offset="0.3" stop-color="#004a2b"/><stop offset="0.5" stop-color="#003720"/><stop offset="0.66" stop-color="#002a18"/><stop offset="0.85" stop-color="#002616"/><stop offset="1" stop-color="#002717"/></linearGradient>
<linearGradient id="g3_1" gradientUnits="userSpaceOnUse" x1="375.1" y1="0" x2="552.9" y2="0"><stop offset="0" stop-color="#435322"/><stop offset="0.3" stop-color="#3b491e"/><stop offset="0.5" stop-color="#2c3616"/><stop offset="0.66" stop-color="#212a11"/><stop offset="0.85" stop-color="#1e250f"/><stop offset="1" stop-color="#1f2710"/></linearGradient>
<linearGradient id="g3_2" gradientUnits="userSpaceOnUse" x1="375.1" y1="0" x2="552.9" y2="0"><stop offset="0" stop-color="#82ad00"/><stop offset="0.3" stop-color="#729900"/><stop offset="0.5" stop-color="#557200"/><stop offset="0.66" stop-color="#415700"/><stop offset="0.85" stop-color="#3a4e00"/><stop offset="1" stop-color="#3d5100"/></linearGradient>
<linearGradient id="g3_3" gradientUnits="userSpaceOnUse" x1="375.1" y1="0" x2="552.9" y2="0"><stop offset="0" stop-color="#8a8a8a"/><stop offset="0.3" stop-color="#7a7a7a"/><stop offset="0.5" stop-color="#5b5b5b"/><stop offset="0.66" stop-color="#464646"/><stop offset="0.85" stop-color="#3e3e3e"/><stop offset="1" stop-color="#414141"/></linearGradient>
<linearGradient id="g3_4" gradientUnits="userSpaceOnUse" x1="375.1" y1="0" x2="552.9" y2="0"><stop offset="0" stop-color="#8bd38b"/><stop offset="0.3" stop-color="#7bba7b"/><stop offset="0.5" stop-color="#5b8b5b"/><stop offset="0.66" stop-color="#466b46"/><stop offset="0.85" stop-color="#3f5f3f"/><stop offset="1" stop-color="#416341"/></linearGradient>
<linearGradient id="g3_5" gradientUnits="userSpaceOnUse" x1="375.1" y1="0" x2="552.9" y2="0"><stop offset="0" stop-color="#a6a080"/><stop offset="0.3" stop-color="#938d71"/><stop offset="0.5" stop-color="#6d6954"/><stop offset="0.66" stop-color="#545140"/><stop offset="0.85" stop-color="#4b483a"/><stop offset="1" stop-color="#4e4b3c"/></linearGradient>
</defs>
<path d="M464.00,321.30 L468.14,321.35 L468.08,336.33 L464.00,336.28Z" fill="url(#g3_0)" stroke="url(#g3_0)" stroke-width="0.6"/>
<path d="M468.14,321.35 L471.13,321.44 L474.12,321.57 L473.95,336.57 L471.02,336.42 L468.08,336.33Z" fill="url(#g3_2)" stroke="url(#g3_2)" stroke-width="0.6"/>
<path d="M474.12,321.57 L476.63,321.73 L476.42,336.73 L473.95,336.57Z" fill="url(#g3_1)" stroke="url(#g3_1)" stroke-width="0.6"/>
<path d="M476.63,321.73 L479.19,321.92 L481.73,322.15 L484.26,322.41 L486.78,322.71 L489.28,323.04 L491.76,323.41 L494.23,323.81 L496.68,324.25 L499.10,324.73 L501.50,325.24 L503.87,325.78 L506.22,326.36 L508.53,326.98 L510.82,327.63 L513.07,328.31 L515.28,329.03 L517.46,329.78 L519.59,330.57 L521.68,331.39 L523.73,332.24 L525.73,333.13 L527.68,334.05 L529.58,335.01 L531.43,336.00 L533.21,337.02 L534.94,338.07 L536.61,339.15 L538.21,340.26 L539.74,341.41 L541.21,342.58 L542.60,343.78 L543.91,345.01 L545.15,346.27 L546.31,347.55 L547.38,348.86 L548.37,350.20 L549.27,351.56 L550.07,352.94 L550.78,354.34 L551.39,355.77 L551.91,357.21 L552.31,358.67 L552.62,360.14 L552.81,361.63 L552.90,363.13 L552.87,364.64 L552.72,366.17 L552.46,367.69 L552.08,369.23 L551.57,370.76 L550.95,372.30 L550.19,373.83 L549.32,375.36 L548.31,376.88 L547.18,378.40 L545.91,379.90 L544.52,381.38 L543.00,382.85 L541.35,384.30 L539.57,385.72 L537.67,387.12 L535.63,388.49 L533.48,389.83 L531.20,391.13 L528.79,392.39 L526.27,393.62 L523.64,394.79 L520.89,395.93 L518.04,397.01 L515.08,398.04 L512.03,399.01 L508.87,399.93 L505.64,400.79 L502.31,401.58 L498.91,402.31 L495.44,402.97 L491.91,403.57 L488.32,404.09 L484.67,404.54 L480.99,404.92 L477.27,405.23 L473.52,405.46 L469.75,405.61 L465.97,405.69 L462.18,405.69 L458.40,405.62 L454.63,405.47 L450.88,405.24 L447.16,404.94 L443.48,404.56 L439.83,404.11 L436.24,403.59 L432.70,403.00 L429.23,402.34 L425.82,401.61 L422.50,400.82 L419.25,399.97 L416.10,399.05 L413.04,398.08 L410.08,397.05 L407.22,395.97 L404.47,394.84 L401.83,393.66 L399.31,392.44 L396.90,391.18 L394.61,389.88 L392.45,388.55 L390.41,387.18 L388.50,385.78 L386.72,384.36 L385.06,382.91 L383.54,381.44 L382.14,379.96 L380.87,378.46 L379.73,376.94 L378.72,375.42 L377.84,373.89 L377.08,372.36 L376.45,370.82 L375.94,369.29 L375.55,367.76 L375.29,366.23 L375.14,364.71 L375.10,363.19 L375.18,361.69 L375.37,360.20 L375.67,358.73 L376.08,357.27 L376.58,355.82 L377.19,354.40 L377.90,353.00 L378.70,351.61 L379.59,350.25 L380.58,348.92 L381.65,347.61 L382.80,346.32 L384.03,345.06 L385.35,343.83 L386.74,342.63 L388.20,341.45 L389.73,340.31 L391.33,339.19 L392.99,338.11 L394.72,337.06 L396.50,336.04 L398.34,335.05 L400.24,334.09 L402.19,333.17 L404.19,332.28 L406.23,331.42 L407.24,347.05 L405.23,347.96 L403.28,348.91 L401.37,349.89 L399.51,350.91 L397.71,351.96 L395.96,353.04 L394.27,354.16 L392.65,355.31 L391.08,356.49 L389.59,357.71 L388.16,358.95 L386.81,360.23 L385.53,361.54 L384.32,362.87 L383.20,364.24 L382.16,365.63 L381.21,367.04 L380.34,368.48 L379.57,369.95 L378.89,371.43 L378.30,372.94 L377.81,374.47 L377.43,376.01 L377.15,377.57 L376.97,379.15 L376.91,380.74 L376.95,382.34 L377.11,383.94 L377.38,385.56 L377.78,387.18 L378.29,388.80 L378.92,390.42 L379.67,392.04 L380.55,393.65 L381.55,395.26 L382.67,396.85 L383.92,398.43 L385.30,400.00 L386.80,401.54 L388.43,403.07 L390.19,404.57 L392.06,406.04 L394.07,407.48 L396.19,408.88 L398.43,410.25 L400.79,411.58 L403.26,412.86 L405.85,414.10 L408.54,415.29 L411.34,416.42 L414.23,417.50 L417.23,418.52 L420.31,419.48 L423.48,420.38 L426.73,421.21 L430.05,421.97 L433.45,422.66 L436.90,423.29 L440.41,423.83 L443.97,424.30 L447.57,424.70 L451.20,425.02 L454.86,425.25 L458.54,425.41 L462.23,425.49 L465.92,425.49 L469.61,425.41 L473.29,425.25 L476.95,425.00 L480.58,424.68 L484.18,424.29 L487.73,423.81 L491.24,423.26 L494.69,422.64 L498.08,421.94 L501.40,421.18 L504.65,420.34 L507.82,419.44 L510.90,418.48 L513.89,417.46 L516.78,416.38 L519.57,415.24 L522.26,414.05 L524.84,412.81 L527.31,411.52 L529.66,410.20 L531.90,408.83 L534.02,407.42 L536.01,405.98 L537.89,404.51 L539.64,403.01 L541.26,401.48 L542.76,399.93 L544.13,398.37 L545.38,396.79 L546.50,395.19 L547.49,393.59 L548.36,391.97 L549.11,390.35 L549.74,388.73 L550.24,387.11 L550.63,385.49 L550.90,383.88 L551.05,382.27 L551.09,380.67 L551.02,379.08 L550.84,377.51 L550.56,375.95 L550.17,374.40 L549.68,372.88 L549.09,371.37 L548.40,369.89 L547.62,368.42 L546.75,366.98 L545.80,365.57 L544.75,364.18 L543.63,362.82 L542.42,361.48 L541.14,360.18 L539.78,358.90 L538.35,357.66 L536.85,356.44 L535.29,355.26 L533.66,354.11 L531.97,353.00 L530.22,351.91 L528.42,350.86 L526.56,349.85 L524.65,348.87 L522.69,347.93 L520.68,347.02 L518.63,346.14 L516.53,345.31 L514.40,344.50 L512.23,343.74 L510.02,343.01 L507.78,342.32 L505.50,341.67 L503.20,341.05 L500.87,340.47 L498.51,339.93 L496.13,339.42 L493.72,338.96 L491.30,338.52 L488.86,338.13 L486.40,337.78 L483.92,337.46 L481.43,337.18 L478.93,336.94 L476.42,336.73Z" fill="url(#g3_3)" stroke="url(#g3_3)" stroke-width="0.6"/>
<path d="M406.23,331.42 L408.48,330.54 L409.44,346.12 L407.24,347.05Z" fill="url(#g3_5)" stroke="url(#g3_5)" stroke-width="0.6"/>
<path d="M408.48,330.54 L410.60,329.76 L412.77,329.01 L414.97,328.30 L417.21,327.62 L419.48,326.97 L421.79,326.36 L424.12,325.78 L426.48,325.24 L428.87,324.73 L431.28,324.26 L433.71,323.82 L436.17,323.42 L438.64,323.05 L441.13,322.72 L443.63,322.42 L446.15,322.16 L448.68,321.93 L451.22,321.74 L453.76,321.58 L456.32,321.46 L458.88,321.37 L461.44,321.32 L464.00,321.30 L464.00,336.28 L461.48,336.30 L458.96,336.35 L456.44,336.45 L453.93,336.58 L451.43,336.74 L448.93,336.95 L446.45,337.19 L443.97,337.47 L441.51,337.79 L439.06,338.14 L436.63,338.54 L434.22,338.97 L431.83,339.43 L429.46,339.93 L427.12,340.48 L424.80,341.05 L422.50,341.67 L420.24,342.32 L418.01,343.00 L415.81,343.73 L413.65,344.49 L411.53,345.28 L409.44,346.12Z" fill="url(#g3_4)" stroke="url(#g3_4)" stroke-width="0.6"/>
<path d="M464.00,355.48 L464.00,321.30 L468.14,321.35Z" fill="#00633a" stroke="#00633a" stroke-width="0.5" stroke-linejoin="round"/>
<path d="M464.00,355.48 L468.14,321.35 L471.13,321.44 L474.12,321.57Z" fill="#99cc00" stroke="#99cc00" stroke-width="0.5" stroke-linejoin="round"/>
<path d="M464.00,355.48 L474.12,321.57 L476.63,321.73Z" fill="#4f6228" stroke="#4f6228" stroke-width="0.5" stroke-linejoin="round"/>
<path d="M464.00,355.48 L476.63,321.73 L479.19,321.92 L481.73,322.15 L484.26,322.41 L486.78,322.71 L489.28,323.04 L491.76,323.41 L494.23,323.81 L496.68,324.25 L499.10,324.73 L501.50,325.24 L503.87,325.78 L506.22,326.36 L508.53,326.98 L510.82,327.63 L513.07,328.31 L515.28,329.03 L517.46,329.78 L519.59,330.57 L521.68,331.39 L523.73,332.24 L525.73,333.13 L527.68,334.05 L529.58,335.01 L531.43,336.00 L533.21,337.02 L534.94,338.07 L536.61,339.15 L538.21,340.26 L539.74,341.41 L541.21,342.58 L542.60,343.78 L543.91,345.01 L545.15,346.27 L546.31,347.55 L547.38,348.86 L548.37,350.20 L549.27,351.56 L550.07,352.94 L550.78,354.34 L551.39,355.77 L551.91,357.21 L552.31,358.67 L552.62,360.14 L552.81,361.63 L552.90,363.13 L552.87,364.64 L552.72,366.17 L552.46,367.69 L552.08,369.23 L551.57,370.76 L550.95,372.30 L550.19,373.83 L549.32,375.36 L548.31,376.88 L547.18,378.40 L545.91,379.90 L544.52,381.38 L543.00,382.85 L541.35,384.30 L539.57,385.72 L537.67,387.12 L535.63,388.49 L533.48,389.83 L531.20,391.13 L528.79,392.39 L526.27,393.62 L523.64,394.79 L520.89,395.93 L518.04,397.01 L515.08,398.04 L512.03,399.01 L508.87,399.93 L505.64,400.79 L502.31,401.58 L498.91,402.31 L495.44,402.97 L491.91,403.57 L488.32,404.09 L484.67,404.54 L480.99,404.92 L477.27,405.23 L473.52,405.46 L469.75,405.61 L465.97,405.69 L462.18,405.69 L458.40,405.62 L454.63,405.47 L450.88,405.24 L447.16,404.94 L443.48,404.56 L439.83,404.11 L436.24,403.59 L432.70,403.00 L429.23,402.34 L425.82,401.61 L422.50,400.82 L419.25,399.97 L416.10,399.05 L413.04,398.08 L410.08,397.05 L407.22,395.97 L404.47,394.84 L401.83,393.66 L399.31,392.44 L396.90,391.18 L394.61,389.88 L392.45,388.55 L390.41,387.18 L388.50,385.78 L386.72,384.36 L385.06,382.91 L383.54,381.44 L382.14,379.96 L380.87,378.46 L379.73,376.94 L378.72,375.42 L377.84,373.89 L377.08,372.36 L376.45,370.82 L375.94,369.29 L375.55,367.76 L375.29,366.23 L375.14,364.71 L375.10,363.19 L375.18,361.69 L375.37,360.20 L375.67,358.73 L376.08,357.27 L376.58,355.82 L377.19,354.40 L377.90,353.00 L378.70,351.61 L379.59,350.25 L380.58,348.92 L381.65,347.61 L382.80,346.32 L384.03,345.06 L385.35,343.83 L386.74,342.63 L388.20,341.45 L389.73,340.31 L391.33,339.19 L392.99,338.11 L394.72,337.06 L396.50,336.04 L398.34,335.05 L400.24,334.09 L402.19,333.17 L404.19,332.28 L406.23,331.42Z" fill="#a3a3a3" stroke="#a3a3a3" stroke-width="0.5" stroke-linejoin="round"/>
<path d="M464.00,355.48 L406.23,331.42 L408.48,330.54Z" fill="#c4bd97" stroke="#c4bd97" stroke-width="0.5" stroke-linejoin="round"/>
<path d="M464.00,355.48 L408.48,330.54 L410.60,329.76 L412.77,329.01 L414.97,328.30 L417.21,327.62 L419.48,326.97 L421.79,326.36 L424.12,325.78 L426.48,325.24 L428.87,324.73 L431.28,324.26 L433.71,323.82 L436.17,323.42 L438.64,323.05 L441.13,322.72 L443.63,322.42 L446.15,322.16 L448.68,321.93 L451.22,321.74 L453.76,321.58 L456.32,321.46 L458.88,321.37 L461.44,321.32 L464.00,321.30Z" fill="#a4f9a4" stroke="#a4f9a4" stroke-width="0.5" stroke-linejoin="round"/>
<path d="M444.2,298.1 L449.0,298.1 L465.6,321.7" fill="none" stroke="#1c1c1c" stroke-width="1.35" stroke-linejoin="miter"/>
<text x="431.8" y="288.3" font-size="10.1" text-anchor="middle" textLength="18.5" lengthAdjust="spacingAndGlyphs" fill="#1a1a1a" xml:space="preserve">BHD</text>
<text x="431.8" y="298.9" font-size="10.1" text-anchor="middle" textLength="20.5" lengthAdjust="spacingAndGlyphs" fill="#1a1a1a" xml:space="preserve">0.9%</text>
<path d="M415.0,314.2 L420.8,314.2 L434.8,323.7" fill="none" stroke="#1c1c1c" stroke-width="1.35" stroke-linejoin="miter"/>
<text x="399.8" y="304.0" font-size="10.1" text-anchor="middle" textLength="18.8" lengthAdjust="spacingAndGlyphs" fill="#1a1a1a" xml:space="preserve">USD</text>
<text x="399.8" y="314.6" font-size="10.1" text-anchor="middle" textLength="24.6" lengthAdjust="spacingAndGlyphs" fill="#1a1a1a" xml:space="preserve">12.8%</text>
<path d="M381.2,326.2 L387.0,326.2 L407.3,331.5" fill="none" stroke="#1c1c1c" stroke-width="1.35" stroke-linejoin="miter"/>
<text x="368.3" y="316.2" font-size="10.1" text-anchor="middle" textLength="18.7" lengthAdjust="spacingAndGlyphs" fill="#1a1a1a" xml:space="preserve">SGD</text>
<text x="368.3" y="326.8" font-size="10.1" text-anchor="middle" textLength="19.8" lengthAdjust="spacingAndGlyphs" fill="#1a1a1a" xml:space="preserve">0.6%</text>
<path d="M470.8,300.2 L470.8,322.0" fill="none" stroke="#1c1c1c" stroke-width="1.35" stroke-linejoin="miter"/>
<text x="471.3" y="284.2" font-size="10.1" text-anchor="middle" textLength="17.5" lengthAdjust="spacingAndGlyphs" fill="#1a1a1a" xml:space="preserve">CNY</text>
<text x="471.3" y="294.8" font-size="10.1" text-anchor="middle" textLength="19.1" lengthAdjust="spacingAndGlyphs" fill="#1a1a1a" xml:space="preserve">1.3%</text>
<path d="M489.6,298.7 L484.2,298.7 L472.7,322.0" fill="none" stroke="#1c1c1c" stroke-width="1.35" stroke-linejoin="miter"/>
<text x="503.5" y="288.7" font-size="10.1" text-anchor="middle" textLength="19.6" lengthAdjust="spacingAndGlyphs" fill="#1a1a1a" xml:space="preserve">GMD</text>
<text x="503.5" y="299.3" font-size="10.1" text-anchor="middle" textLength="25.0" lengthAdjust="spacingAndGlyphs" fill="#1a1a1a" xml:space="preserve">0.05%</text>
<path d="M518.1,319.0 L514.0,319.0 L473.3,322.0" fill="none" stroke="#1c1c1c" stroke-width="1.35" stroke-linejoin="miter"/>
<text x="530.2" y="308.5" font-size="10.1" text-anchor="middle" textLength="14.2" lengthAdjust="spacingAndGlyphs" fill="#1a1a1a" xml:space="preserve">IDR</text>
<text x="530.2" y="319.1" font-size="10.1" text-anchor="middle" textLength="19.8" lengthAdjust="spacingAndGlyphs" fill="#1a1a1a" xml:space="preserve">0.5%</text>
<path d="M496.9,422.3 L509.3,434.3 L514.5,434.3" fill="none" stroke="#1c1c1c" stroke-width="1.35" stroke-linejoin="miter"/>
<text x="526.0" y="435.4" font-size="10.1" text-anchor="middle" textLength="18.9" lengthAdjust="spacingAndGlyphs" fill="#1a1a1a" xml:space="preserve">MYR</text>
<text x="526.0" y="446.0" font-size="10.1" text-anchor="middle" textLength="26.0" lengthAdjust="spacingAndGlyphs" fill="#1a1a1a" xml:space="preserve">83.9%</text>
<text x="61.7" y="481.5" font-size="12" font-weight="bold" textLength="36.1" lengthAdjust="spacingAndGlyphs" fill="#000" xml:space="preserve">Global</text>
<text x="103.6" y="481.5" font-size="12" font-weight="bold" textLength="35.2" lengthAdjust="spacingAndGlyphs" fill="#000" xml:space="preserve">Sukuk</text>
<text x="142.5" y="481.5" font-size="12" font-weight="bold" textLength="38.2" lengthAdjust="spacingAndGlyphs" fill="#000" xml:space="preserve">Issued</text>
<text x="183.1" y="481.5" font-size="12" font-weight="bold" textLength="13.0" lengthAdjust="spacingAndGlyphs" fill="#000" xml:space="preserve">by</text>
<text x="201.7" y="481.5" font-size="12" font-weight="bold" textLength="53.0" lengthAdjust="spacingAndGlyphs" fill="#000" xml:space="preserve">Structure</text>
<text x="107.9" y="499.0" font-size="12" font-weight="bold" textLength="67.4" lengthAdjust="spacingAndGlyphs" fill="#000" xml:space="preserve">(September</text>
<text x="178.2" y="499.0" font-size="12" font-weight="bold" textLength="32.2" lengthAdjust="spacingAndGlyphs" fill="#000" xml:space="preserve">2012)</text>
<defs>
<linearGradient id="g4_0" gradientUnits="userSpaceOnUse" x1="82.1" y1="0" x2="238.1" y2="0"><stop offset="0" stop-color="#005431"/><stop offset="0.3" stop-color="#004a2b"/><stop offset="0.5" stop-color="#003720"/><stop offset="0.66" stop-color="#002a18"/><stop offset="0.85" stop-color="#002616"/><stop offset="1" stop-color="#002717"/></linearGradient>
<linearGradient id="g4_1" gradientUnits="userSpaceOnUse" x1="82.1" y1="0" x2="238.1" y2="0"><stop offset="0" stop-color="#435322"/><stop offset="0.3" stop-color="#3b491e"/><stop offset="0.5" stop-color="#2c3616"/><stop offset="0.66" stop-color="#212a11"/><stop offset="0.85" stop-color="#1e250f"/><stop offset="1" stop-color="#1f2710"/></linearGradient>
<linearGradient id="g4_2" gradientUnits="userSpaceOnUse" x1="82.1" y1="0" x2="238.1" y2="0"><stop offset="0" stop-color="#6b6b6b"/><stop offset="0.3" stop-color="#5f5f5f"/><stop offset="0.5" stop-color="#474747"/><stop offset="0.66" stop-color="#363636"/><stop offset="0.85" stop-color="#303030"/><stop offset="1" stop-color="#323232"/></linearGradient>
<linearGradient id="g4_3" gradientUnits="userSpaceOnUse" x1="82.1" y1="0" x2="238.1" y2="0"><stop offset="0" stop-color="#7cb044"/><stop offset="0.3" stop-color="#6d9c3c"/><stop offset="0.5" stop-color="#51742c"/><stop offset="0.66" stop-color="#3e5922"/><stop offset="0.85" stop-color="#38501e"/><stop offset="1" stop-color="#3a5320"/></linearGradient>
<linearGradient id="g4_4" gradientUnits="userSpaceOnUse" x1="82.1" y1="0" x2="238.1" y2="0"><stop offset="0" stop-color="#82ad00"/><stop offset="0.3" stop-color="#729900"/><stop offset="0.5" stop-color="#557200"/><stop offset="0.66" stop-color="#415700"/><stop offset="0.85" stop-color="#3a4e00"/><stop offset="1" stop-color="#3d5100"/></linearGradient>
<linearGradient id="g4_5" gradientUnits="userSpaceOnUse" x1="82.1" y1="0" x2="238.1" y2="0"><stop offset="0" stop-color="#8a8a8a"/><stop offset="0.3" stop-color="#7a7a7a"/><stop offset="0.5" stop-color="#5b5b5b"/><stop offset="0.66" stop-color="#464646"/><stop offset="0.85" stop-color="#3e3e3e"/><stop offset="1" stop-color="#414141"/></linearGradient>
<linearGradient id="g4_6" gradientUnits="userSpaceOnUse" x1="82.1" y1="0" x2="238.1" y2="0"><stop offset="0" stop-color="#99be5b"/><stop offset="0.3" stop-color="#87a851"/><stop offset="0.5" stop-color="#657d3c"/><stop offset="0.66" stop-color="#4d602e"/><stop offset="0.85" stop-color="#455629"/><stop offset="1" stop-color="#48592b"/></linearGradient>
</defs>
<path d="M160.10,559.00 L162.52,559.02 L162.48,571.72 L160.10,571.70Z" fill="url(#g4_0)" stroke="url(#g4_0)" stroke-width="0.6"/>
<path d="M162.52,559.02 L165.19,559.08 L167.85,559.18 L170.50,559.32 L173.15,559.50 L175.78,559.73 L175.52,572.48 L172.93,572.24 L170.33,572.04 L167.72,571.89 L165.11,571.79 L162.48,571.72Z" fill="url(#g4_4)" stroke="url(#g4_4)" stroke-width="0.6"/>
<path d="M175.78,559.73 L178.05,559.96 L180.32,560.22 L182.56,560.51 L184.80,560.84 L187.01,561.19 L189.21,561.58 L191.38,562.00 L193.53,562.45 L195.66,562.93 L197.76,563.44 L199.84,563.98 L201.88,564.55 L203.89,565.16 L205.87,565.79 L207.81,566.46 L209.71,567.15 L211.57,567.88 L213.40,568.63 L215.17,569.42 L216.90,570.23 L218.58,571.08 L220.21,571.95 L221.78,572.85 L223.30,573.78 L224.76,574.73 L226.16,575.72 L227.49,576.73 L228.76,577.76 L229.96,578.82 L231.09,579.91 L232.14,581.02 L233.12,582.15 L231.73,596.31 L230.78,595.11 L229.76,593.93 L228.66,592.78 L227.49,591.66 L226.25,590.56 L224.95,589.48 L223.58,588.44 L222.16,587.43 L220.67,586.44 L219.13,585.48 L217.54,584.56 L215.89,583.66 L214.20,582.79 L212.46,581.96 L210.68,581.15 L208.85,580.38 L206.98,579.64 L205.08,578.94 L203.14,578.26 L201.16,577.62 L199.16,577.01 L197.12,576.43 L195.06,575.89 L192.97,575.37 L190.85,574.90 L188.72,574.45 L186.56,574.04 L184.38,573.66 L182.19,573.32 L179.98,573.00 L177.76,572.73 L175.52,572.48Z" fill="url(#g4_1)" stroke="url(#g4_1)" stroke-width="0.6"/>
<path d="M233.12,582.15 L234.00,583.27 L234.80,584.42 L235.51,585.58 L236.15,586.76 L236.70,587.96 L237.16,589.18 L237.53,590.41 L237.81,591.65 L238.00,592.91 L238.09,594.17 L238.08,595.45 L237.97,596.73 L237.76,598.02 L237.45,599.31 L237.02,600.61 L236.49,601.91 L235.86,603.20 L235.11,604.49 L234.25,605.78 L233.28,607.06 L232.19,608.33 L231.00,609.59 L229.69,610.83 L228.26,612.05 L226.73,613.26 L225.08,614.45 L223.32,615.61 L221.46,616.74 L219.48,617.85 L217.40,618.92 L215.22,619.96 L212.93,620.96 L210.55,621.93 L208.07,622.85 L205.50,623.73 L202.84,624.56 L200.10,625.35 L197.28,626.08 L194.38,626.77 L191.42,627.40 L188.40,627.97 L185.31,628.48 L182.18,628.94 L179.00,629.34 L175.78,629.67 L172.53,629.94 L169.25,630.15 L165.96,630.30 L162.65,630.38 L159.33,630.40 L156.02,630.35 L152.72,630.24 L149.43,630.06 L146.16,629.83 L142.93,629.52 L139.72,629.16 L136.56,628.74 L133.45,628.25 L130.40,627.71 L127.40,627.11 L124.47,626.46 L121.61,625.75 L118.82,624.99 L116.12,624.18 L113.50,623.33 L110.98,622.43 L108.54,621.49 L106.20,620.51 L103.96,619.48 L101.82,618.43 L99.79,617.34 L97.87,616.22 L96.05,615.07 L94.34,613.90 L92.75,612.71 L91.26,611.49 L89.89,610.26 L88.64,609.01 L87.49,607.74 L86.46,606.47 L85.54,605.19 L84.73,603.90 L84.03,602.60 L83.45,601.31 L82.97,600.01 L82.59,598.71 L82.33,597.42 L82.16,596.14 L82.10,594.86 L82.14,593.58 L82.27,592.32 L82.50,591.07 L82.83,589.84 L83.24,588.61 L83.75,587.41 L84.34,586.21 L85.01,585.04 L85.76,583.89 L86.60,582.75 L87.51,581.64 L88.49,580.54 L89.55,579.47 L90.68,578.43 L91.87,577.40 L93.13,576.40 L94.45,575.43 L95.82,574.47 L97.26,573.55 L98.75,572.65 L100.30,571.78 L101.37,585.30 L99.86,586.23 L98.40,587.18 L96.99,588.17 L95.65,589.17 L94.36,590.21 L93.13,591.27 L91.97,592.36 L90.87,593.47 L89.84,594.61 L88.88,595.77 L88.00,596.95 L87.19,598.15 L86.46,599.37 L85.81,600.62 L85.24,601.88 L84.75,603.16 L84.36,604.45 L84.05,605.76 L83.84,607.08 L83.71,608.42 L83.69,609.76 L83.76,611.12 L83.93,612.48 L84.20,613.84 L84.58,615.21 L85.06,616.58 L85.64,617.95 L86.34,619.31 L87.14,620.67 L88.05,622.03 L89.07,623.37 L90.20,624.70 L91.44,626.02 L92.79,627.32 L94.24,628.60 L95.81,629.86 L97.49,631.09 L99.27,632.30 L101.16,633.48 L103.15,634.62 L105.25,635.73 L107.44,636.81 L109.73,637.84 L112.12,638.83 L114.59,639.78 L117.15,640.67 L119.80,641.52 L122.52,642.32 L125.31,643.06 L128.18,643.75 L131.10,644.38 L134.09,644.95 L137.13,645.45 L140.21,645.90 L143.34,646.28 L146.50,646.60 L149.69,646.85 L152.90,647.03 L156.12,647.15 L159.35,647.20 L162.59,647.18 L165.81,647.09 L169.03,646.94 L172.23,646.72 L175.40,646.44 L178.55,646.08 L181.65,645.67 L184.71,645.19 L187.72,644.65 L190.68,644.05 L193.57,643.39 L196.40,642.67 L199.15,641.90 L201.83,641.07 L204.43,640.20 L206.95,639.27 L209.38,638.30 L211.71,637.29 L213.95,636.24 L216.09,635.14 L218.13,634.01 L220.07,632.85 L221.90,631.65 L223.62,630.43 L225.24,629.18 L226.75,627.91 L228.15,626.62 L229.44,625.31 L230.62,623.99 L231.69,622.65 L232.65,621.30 L233.51,619.94 L234.25,618.58 L234.88,617.21 L235.41,615.84 L235.84,614.47 L236.16,613.11 L236.37,611.74 L236.49,610.39 L236.51,609.04 L236.43,607.70 L236.26,606.37 L236.00,605.06 L235.64,603.75 L235.20,602.47 L234.67,601.20 L234.05,599.95 L233.36,598.71 L232.58,597.50 L231.73,596.31Z" fill="url(#g4_5)" stroke="url(#g4_5)" stroke-width="0.6"/>
<path d="M100.30,571.78 L101.89,570.94 L103.53,570.12 L105.22,569.33 L106.95,568.57 L108.73,567.84 L110.54,567.13 L112.39,566.46 L114.28,565.81 L116.20,565.19 L118.16,564.60 L120.14,564.04 L122.16,563.51 L124.20,563.01 L126.27,562.53 L128.36,562.09 L130.47,561.68 L132.60,561.29 L134.75,560.94 L136.92,560.61 L139.10,560.32 L141.29,560.05 L143.50,559.82 L145.72,559.61 L147.95,559.44 L150.19,559.29 L152.43,559.17 L152.56,571.89 L150.35,572.01 L148.15,572.17 L145.96,572.36 L143.78,572.58 L141.61,572.83 L139.45,573.11 L137.30,573.42 L135.17,573.77 L133.06,574.15 L130.96,574.56 L128.89,575.00 L126.84,575.47 L124.81,575.97 L122.80,576.51 L120.83,577.07 L118.88,577.67 L116.96,578.30 L115.07,578.95 L113.22,579.64 L111.40,580.36 L109.62,581.11 L107.89,581.89 L106.19,582.70 L104.53,583.54 L102.93,584.41 L101.37,585.30Z" fill="url(#g4_2)" stroke="url(#g4_2)" stroke-width="0.6"/>
<path d="M152.43,559.17 L154.45,559.09 L154.54,571.80 L152.56,571.89Z" fill="url(#g4_6)" stroke="url(#g4_6)" stroke-width="0.6"/>
<path d="M154.45,559.09 L157.27,559.02 L160.10,559.00 L160.10,571.70 L157.32,571.73 L154.54,571.80Z" fill="url(#g4_3)" stroke="url(#g4_3)" stroke-width="0.6"/>
<path d="M160.10,587.92 L160.10,559.00 L162.52,559.02Z" fill="#00633a" stroke="#00633a" stroke-width="0.5" stroke-linejoin="round"/>
<path d="M160.10,587.92 L162.52,559.02 L165.19,559.08 L167.85,559.18 L170.50,559.32 L173.15,559.50 L175.78,559.73Z" fill="#99cc00" stroke="#99cc00" stroke-width="0.5" stroke-linejoin="round"/>
<path d="M160.10,587.92 L175.78,559.73 L178.05,559.96 L180.32,560.22 L182.56,560.51 L184.80,560.84 L187.01,561.19 L189.21,561.58 L191.38,562.00 L193.53,562.45 L195.66,562.93 L197.76,563.44 L199.84,563.98 L201.88,564.55 L203.89,565.16 L205.87,565.79 L207.81,566.46 L209.71,567.15 L211.57,567.88 L213.40,568.63 L215.17,569.42 L216.90,570.23 L218.58,571.08 L220.21,571.95 L221.78,572.85 L223.30,573.78 L224.76,574.73 L226.16,575.72 L227.49,576.73 L228.76,577.76 L229.96,578.82 L231.09,579.91 L232.14,581.02 L233.12,582.15Z" fill="#4f6228" stroke="#4f6228" stroke-width="0.5" stroke-linejoin="round"/>
<path d="M160.10,587.92 L233.12,582.15 L234.00,583.27 L234.80,584.42 L235.51,585.58 L236.15,586.76 L236.70,587.96 L237.16,589.18 L237.53,590.41 L237.81,591.65 L238.00,592.91 L238.09,594.17 L238.08,595.45 L237.97,596.73 L237.76,598.02 L237.45,599.31 L237.02,600.61 L236.49,601.91 L235.86,603.20 L235.11,604.49 L234.25,605.78 L233.28,607.06 L232.19,608.33 L231.00,609.59 L229.69,610.83 L228.26,612.05 L226.73,613.26 L225.08,614.45 L223.32,615.61 L221.46,616.74 L219.48,617.85 L217.40,618.92 L215.22,619.96 L212.93,620.96 L210.55,621.93 L208.07,622.85 L205.50,623.73 L202.84,624.56 L200.10,625.35 L197.28,626.08 L194.38,626.77 L191.42,627.40 L188.40,627.97 L185.31,628.48 L182.18,628.94 L179.00,629.34 L175.78,629.67 L172.53,629.94 L169.25,630.15 L165.96,630.30 L162.65,630.38 L159.33,630.40 L156.02,630.35 L152.72,630.24 L149.43,630.06 L146.16,629.83 L142.93,629.52 L139.72,629.16 L136.56,628.74 L133.45,628.25 L130.40,627.71 L127.40,627.11 L124.47,626.46 L121.61,625.75 L118.82,624.99 L116.12,624.18 L113.50,623.33 L110.98,622.43 L108.54,621.49 L106.20,620.51 L103.96,619.48 L101.82,618.43 L99.79,617.34 L97.87,616.22 L96.05,615.07 L94.34,613.90 L92.75,612.71 L91.26,611.49 L89.89,610.26 L88.64,609.01 L87.49,607.74 L86.46,606.47 L85.54,605.19 L84.73,603.90 L84.03,602.60 L83.45,601.31 L82.97,600.01 L82.59,598.71 L82.33,597.42 L82.16,596.14 L82.10,594.86 L82.14,593.58 L82.27,592.32 L82.50,591.07 L82.83,589.84 L83.24,588.61 L83.75,587.41 L84.34,586.21 L85.01,585.04 L85.76,583.89 L86.60,582.75 L87.51,581.64 L88.49,580.54 L89.55,579.47 L90.68,578.43 L91.87,577.40 L93.13,576.40 L94.45,575.43 L95.82,574.47 L97.26,573.55 L98.75,572.65 L100.30,571.78Z" fill="#a3a3a3" stroke="#a3a3a3" stroke-width="0.5" stroke-linejoin="round"/>
<path d="M160.10,587.92 L100.30,571.78 L101.89,570.94 L103.53,570.12 L105.22,569.33 L106.95,568.57 L108.73,567.84 L110.54,567.13 L112.39,566.46 L114.28,565.81 L116.20,565.19 L118.16,564.60 L120.14,564.04 L122.16,563.51 L124.20,563.01 L126.27,562.53 L128.36,562.09 L130.47,561.68 L132.60,561.29 L134.75,560.94 L136.92,560.61 L139.10,560.32 L141.29,560.05 L143.50,559.82 L145.72,559.61 L147.95,559.44 L150.19,559.29 L152.43,559.17Z" fill="#7f7f7f" stroke="#7f7f7f" stroke-width="0.5" stroke-linejoin="round"/>
<path d="M160.10,587.92 L152.43,559.17 L154.45,559.09Z" fill="#b5e06c" stroke="#b5e06c" stroke-width="0.5" stroke-linejoin="round"/>
<path d="M160.10,587.92 L154.45,559.09 L157.27,559.02 L160.10,559.00Z" fill="#92d050" stroke="#92d050" stroke-width="0.5" stroke-linejoin="round"/>
<path d="M147.9,530.4 L153.5,530.4 L157.1,559.2" fill="none" stroke="#1c1c1c" stroke-width="1.35" stroke-linejoin="miter"/>
<text x="136.7" y="520.0" font-size="8.4" text-anchor="middle" textLength="32.9" lengthAdjust="spacingAndGlyphs" fill="#1a1a1a" xml:space="preserve">Wakalah</text>
<text x="136.7" y="530.0" font-size="8.4" text-anchor="middle" textLength="19.2" lengthAdjust="spacingAndGlyphs" fill="#1a1a1a" xml:space="preserve">1.4%</text>
<path d="M120.2,540.4 L125.4,540.4 L154.2,559.6" fill="none" stroke="#1c1c1c" stroke-width="1.35" stroke-linejoin="miter"/>
<text x="107.8" y="530.4" font-size="8.4" text-anchor="middle" textLength="23.3" lengthAdjust="spacingAndGlyphs" fill="#1a1a1a" xml:space="preserve">Salam</text>
<text x="107.8" y="540.4" font-size="8.4" text-anchor="middle" textLength="19.6" lengthAdjust="spacingAndGlyphs" fill="#1a1a1a" xml:space="preserve">0.5%</text>
<path d="M97.9,549.2 L103.1,549.2 L124.0,563.0" fill="none" stroke="#1c1c1c" stroke-width="1.35" stroke-linejoin="miter"/>
<text x="71.7" y="549.4" font-size="8.4" text-anchor="middle" textLength="47.3" lengthAdjust="spacingAndGlyphs" fill="#1a1a1a" xml:space="preserve">Musharakah</text>
<text x="71.7" y="559.4" font-size="8.4" text-anchor="middle" textLength="24.0" lengthAdjust="spacingAndGlyphs" fill="#1a1a1a" xml:space="preserve">14.5%</text>
<path d="M167.1,531.0 L161.9,531.0 L160.4,558.7" fill="none" stroke="#1c1c1c" stroke-width="1.35" stroke-linejoin="miter"/>
<text x="178.3" y="520.6" font-size="8.4" text-anchor="middle" textLength="33.3" lengthAdjust="spacingAndGlyphs" fill="#1a1a1a" xml:space="preserve">Bai' Inah</text>
<text x="178.3" y="530.6" font-size="8.4" text-anchor="middle" textLength="19.4" lengthAdjust="spacingAndGlyphs" fill="#1a1a1a" xml:space="preserve">0.6%</text>
<path d="M200.6,543.5 L195.4,543.5 L169.2,558.7" fill="none" stroke="#1c1c1c" stroke-width="1.35" stroke-linejoin="miter"/>
<text x="213.6" y="533.1" font-size="8.4" text-anchor="middle" textLength="25.5" lengthAdjust="spacingAndGlyphs" fill="#1a1a1a" xml:space="preserve">Others</text>
<text x="213.6" y="543.1" font-size="8.4" text-anchor="middle" textLength="19.6" lengthAdjust="spacingAndGlyphs" fill="#1a1a1a" xml:space="preserve">3.3%</text>
<path d="M235.0,557.1 L230.2,557.1 L210.0,566.9" fill="none" stroke="#1c1c1c" stroke-width="1.35" stroke-linejoin="miter"/>
<text x="251.7" y="546.7" font-size="8.4" text-anchor="middle" textLength="20.8" lengthAdjust="spacingAndGlyphs" fill="#1a1a1a" xml:space="preserve">Ijarah</text>
<text x="251.7" y="556.7" font-size="8.4" text-anchor="middle" textLength="28.5" lengthAdjust="spacingAndGlyphs" fill="#1a1a1a" xml:space="preserve">18.34%</text>
<path d="M143.7,646.8 L139.2,661.2 L133.6,661.2" fill="none" stroke="#1c1c1c" stroke-width="1.35" stroke-linejoin="miter"/>
<text x="109.3" y="661.7" font-size="8.4" text-anchor="middle" textLength="43.6" lengthAdjust="spacingAndGlyphs" fill="#1a1a1a" xml:space="preserve">Murabahah</text>
<text x="109.3" y="671.7" font-size="8.4" text-anchor="middle" textLength="25.2" lengthAdjust="spacingAndGlyphs" fill="#1a1a1a" xml:space="preserve">61.4%</text>
<text x="344.2" y="481.0" font-size="12" font-weight="bold" textLength="36.5" lengthAdjust="spacingAndGlyphs" fill="#000" xml:space="preserve">Global</text>
<text x="386.1" y="481.0" font-size="12" font-weight="bold" textLength="34.6" lengthAdjust="spacingAndGlyphs" fill="#000" xml:space="preserve">Sukuk</text>
<text x="424.0" y="481.0" font-size="12" font-weight="bold" textLength="39.7" lengthAdjust="spacingAndGlyphs" fill="#000" xml:space="preserve">Issued</text>
<text x="465.8" y="481.0" font-size="12" font-weight="bold" textLength="13.6" lengthAdjust="spacingAndGlyphs" fill="#000" xml:space="preserve">by</text>
<text x="483.2" y="481.0" font-size="12" font-weight="bold" textLength="56.7" lengthAdjust="spacingAndGlyphs" fill="#000" xml:space="preserve">Economic</text>
<text x="544.0" y="481.0" font-size="12" font-weight="bold" textLength="36.5" lengthAdjust="spacingAndGlyphs" fill="#000" xml:space="preserve">Sector</text>
<text x="412.1" y="499.0" font-size="12" font-weight="bold" textLength="66.8" lengthAdjust="spacingAndGlyphs" fill="#000" xml:space="preserve">(September</text>
<text x="482.2" y="499.0" font-size="12" font-weight="bold" textLength="32.2" lengthAdjust="spacingAndGlyphs" fill="#000" xml:space="preserve">2012)</text>
<defs>
<linearGradient id="g5_0" gradientUnits="userSpaceOnUse" x1="398.4" y1="0" x2="525.6" y2="0"><stop offset="0" stop-color="#005431"/><stop offset="0.3" stop-color="#004a2b"/><stop offset="0.5" stop-color="#003720"/><stop offset="0.66" stop-color="#002a18"/><stop offset="0.85" stop-color="#002616"/><stop offset="1" stop-color="#002717"/></linearGradient>
<linearGradient id="g5_1" gradientUnits="userSpaceOnUse" x1="398.4" y1="0" x2="525.6" y2="0"><stop offset="0" stop-color="#435322"/><stop offset="0.3" stop-color="#3b491e"/><stop offset="0.5" stop-color="#2c3616"/><stop offset="0.66" stop-color="#212a11"/><stop offset="0.85" stop-color="#1e250f"/><stop offset="1" stop-color="#1f2710"/></linearGradient>
<linearGradient id="g5_2" gradientUnits="userSpaceOnUse" x1="398.4" y1="0" x2="525.6" y2="0"><stop offset="0" stop-color="#787878"/><stop offset="0.3" stop-color="#6a6a6a"/><stop offset="0.5" stop-color="#4f4f4f"/><stop offset="0.66" stop-color="#3d3d3d"/><stop offset="0.85" stop-color="#363636"/><stop offset="1" stop-color="#383838"/></linearGradient>
<linearGradient id="g5_3" gradientUnits="userSpaceOnUse" x1="398.4" y1="0" x2="525.6" y2="0"><stop offset="0" stop-color="#7cb044"/><stop offset="0.3" stop-color="#6d9c3c"/><stop offset="0.5" stop-color="#51742c"/><stop offset="0.66" stop-color="#3e5922"/><stop offset="0.85" stop-color="#38501e"/><stop offset="1" stop-color="#3a5320"/></linearGradient>
<linearGradient id="g5_4" gradientUnits="userSpaceOnUse" x1="398.4" y1="0" x2="525.6" y2="0"><stop offset="0" stop-color="#8a8a8a"/><stop offset="0.3" stop-color="#7a7a7a"/><stop offset="0.5" stop-color="#5b5b5b"/><stop offset="0.66" stop-color="#464646"/><stop offset="0.85" stop-color="#3e3e3e"/><stop offset="1" stop-color="#414141"/></linearGradient>
<linearGradient id="g5_5" gradientUnits="userSpaceOnUse" x1="398.4" y1="0" x2="525.6" y2="0"><stop offset="0" stop-color="#a3b381"/><stop offset="0.3" stop-color="#909e72"/><stop offset="0.5" stop-color="#6b7655"/><stop offset="0.66" stop-color="#525a41"/><stop offset="0.85" stop-color="#49513a"/><stop offset="1" stop-color="#4c543c"/></linearGradient>
</defs>
<path d="M462.00,562.50 L463.87,562.51 L465.73,562.55 L467.59,562.61 L469.45,562.70 L471.31,562.82 L473.15,562.96 L475.00,563.12 L476.83,563.31 L478.65,563.53 L480.46,563.77 L482.26,564.04 L484.04,564.33 L485.81,564.65 L487.56,564.99 L489.29,565.36 L491.01,565.75 L492.70,566.17 L494.37,566.61 L496.02,567.08 L497.64,567.58 L499.24,568.09 L500.80,568.64 L502.34,569.20 L503.84,569.80 L505.31,570.41 L506.75,571.05 L508.14,571.71 L507.33,583.04 L505.96,582.33 L504.55,581.65 L503.11,580.99 L501.64,580.36 L500.13,579.76 L498.59,579.18 L497.03,578.63 L495.44,578.10 L493.82,577.61 L492.18,577.13 L490.52,576.69 L488.83,576.27 L487.13,575.88 L485.41,575.51 L483.67,575.17 L481.92,574.86 L480.15,574.57 L478.37,574.32 L476.58,574.09 L474.78,573.88 L472.97,573.71 L471.15,573.56 L469.33,573.43 L467.50,573.34 L465.67,573.27 L463.84,573.23 L462.00,573.22Z" fill="url(#g5_0)" stroke="url(#g5_0)" stroke-width="0.6"/>
<path d="M508.14,571.71 L509.48,572.39 L510.77,573.08 L512.03,573.80 L513.24,574.54 L514.41,575.31 L515.53,576.09 L516.60,576.89 L517.62,577.72 L518.59,578.56 L519.51,579.43 L520.37,580.31 L521.17,581.21 L521.91,582.13 L522.59,583.06 L523.20,584.02 L523.75,584.98 L524.24,585.96 L524.65,586.96 L524.99,587.97 L525.26,588.99 L525.45,590.02 L525.56,591.06 L525.60,592.10 L525.56,593.16 L525.43,594.22 L525.22,595.28 L524.92,596.35 L524.54,597.42 L524.07,598.49 L523.51,599.56 L522.87,600.62 L522.13,601.68 L521.30,602.73 L520.38,603.78 L519.37,604.81 L518.27,605.83 L517.07,606.83 L515.79,607.82 L514.41,608.79 L512.95,609.74 L511.40,610.66 L509.76,611.57 L508.03,612.44 L506.23,613.29 L504.34,614.10 L502.37,614.88 L500.33,615.63 L498.21,616.34 L496.03,617.01 L493.78,617.65 L491.47,618.24 L489.09,618.78 L486.67,619.29 L484.20,619.74 L481.68,620.15 L479.12,620.51 L476.52,620.82 L473.90,621.08 L471.25,621.29 L468.58,621.44 L465.90,621.54 L463.21,621.59 L460.52,621.59 L457.83,621.54 L455.15,621.43 L452.48,621.27 L449.84,621.05 L447.21,620.79 L444.62,620.48 L442.07,620.11 L439.55,619.70 L437.08,619.24 L434.66,618.73 L432.30,618.18 L429.99,617.58 L427.75,616.95 L425.57,616.27 L423.46,615.56 L421.43,614.81 L419.47,614.02 L417.59,613.20 L415.79,612.35 L414.07,611.48 L412.44,610.57 L410.90,609.64 L409.44,608.69 L408.08,607.72 L406.80,606.73 L405.62,605.72 L404.53,604.70 L403.52,603.67 L402.61,602.63 L401.79,601.57 L401.07,600.51 L400.43,599.45 L399.88,598.38 L399.42,597.31 L399.04,596.24 L398.76,595.18 L398.56,594.11 L398.44,593.05 L398.40,592.00 L398.44,590.95 L398.57,589.91 L398.77,588.88 L399.04,587.86 L399.39,586.86 L399.81,585.86 L400.30,584.88 L400.86,583.92 L401.48,582.97 L402.16,582.04 L402.91,581.12 L403.72,580.22 L404.58,579.34 L405.51,578.48 L406.48,577.63 L407.51,576.81 L408.59,576.01 L409.71,575.23 L410.88,574.47 L412.10,573.73 L413.36,573.01 L414.66,572.32 L415.50,583.68 L414.23,584.42 L413.00,585.18 L411.81,585.97 L410.66,586.78 L409.56,587.61 L408.51,588.46 L407.51,589.34 L406.56,590.23 L405.66,591.15 L404.82,592.08 L404.03,593.04 L403.30,594.01 L402.64,595.00 L402.03,596.01 L401.50,597.03 L401.02,598.07 L400.62,599.13 L400.29,600.20 L400.03,601.27 L399.84,602.37 L399.73,603.47 L399.69,604.57 L399.74,605.69 L399.86,606.81 L400.07,607.94 L400.36,609.07 L400.73,610.20 L401.19,611.33 L401.74,612.46 L402.37,613.58 L403.09,614.70 L403.90,615.81 L404.80,616.92 L405.79,618.01 L406.86,619.08 L408.03,620.14 L409.28,621.19 L410.62,622.21 L412.05,623.22 L413.57,624.19 L415.17,625.15 L416.85,626.07 L418.61,626.97 L420.45,627.83 L422.37,628.65 L424.36,629.44 L426.42,630.20 L428.55,630.91 L430.75,631.58 L433.00,632.20 L435.31,632.78 L437.68,633.32 L440.09,633.80 L442.54,634.24 L445.04,634.62 L447.57,634.95 L450.13,635.23 L452.71,635.45 L455.31,635.62 L457.93,635.73 L460.55,635.79 L463.18,635.79 L465.81,635.74 L468.42,635.63 L471.03,635.47 L473.61,635.25 L476.17,634.98 L478.71,634.65 L481.21,634.28 L483.67,633.85 L486.08,633.37 L488.45,632.84 L490.77,632.26 L493.03,631.64 L495.23,630.98 L497.37,630.27 L499.43,629.52 L501.43,628.74 L503.36,627.91 L505.21,627.05 L506.98,626.16 L508.67,625.24 L510.27,624.29 L511.80,623.32 L513.23,622.32 L514.59,621.29 L515.85,620.25 L517.02,619.19 L518.11,618.12 L519.10,617.03 L520.01,615.93 L520.83,614.81 L521.56,613.70 L522.20,612.57 L522.76,611.44 L523.23,610.31 L523.61,609.18 L523.91,608.05 L524.12,606.93 L524.25,605.80 L524.31,604.69 L524.28,603.58 L524.18,602.48 L524.00,601.38 L523.74,600.30 L523.42,599.24 L523.02,598.18 L522.56,597.14 L522.02,596.11 L521.43,595.10 L520.77,594.11 L520.05,593.14 L519.27,592.18 L518.43,591.24 L517.54,590.32 L516.59,589.43 L515.59,588.55 L514.55,587.69 L513.45,586.86 L512.31,586.05 L511.13,585.26 L509.90,584.50 L508.63,583.76 L507.33,583.04Z" fill="url(#g5_4)" stroke="url(#g5_4)" stroke-width="0.6"/>
<path d="M414.66,572.32 L416.16,571.57 L417.71,570.84 L419.31,570.15 L420.95,569.48 L422.63,568.84 L424.35,568.24 L426.10,567.66 L427.88,567.11 L428.47,578.14 L426.72,578.72 L425.00,579.33 L423.31,579.98 L421.67,580.66 L420.06,581.37 L418.49,582.11 L416.97,582.88 L415.50,583.68Z" fill="url(#g5_3)" stroke="url(#g5_3)" stroke-width="0.6"/>
<path d="M427.88,567.11 L429.63,566.61 L430.18,577.61 L428.47,578.14Z" fill="url(#g5_2)" stroke="url(#g5_2)" stroke-width="0.6"/>
<path d="M429.63,566.61 L431.40,566.15 L433.19,565.71 L435.01,565.29 L435.47,576.20 L433.68,576.64 L431.92,577.11 L430.18,577.61Z" fill="url(#g5_5)" stroke="url(#g5_5)" stroke-width="0.6"/>
<path d="M435.01,565.29 L436.73,564.93 L438.46,564.60 L440.21,564.29 L441.98,564.00 L443.75,563.74 L445.54,563.51 L447.34,563.30 L449.16,563.11 L450.98,562.95 L452.80,562.81 L454.63,562.70 L456.47,562.61 L458.31,562.55 L460.16,562.51 L462.00,562.50 L462.00,573.22 L460.19,573.23 L458.37,573.27 L456.56,573.34 L454.76,573.43 L452.95,573.55 L451.16,573.69 L449.37,573.87 L447.59,574.07 L445.82,574.29 L444.06,574.54 L442.31,574.82 L440.58,575.13 L438.86,575.46 L437.15,575.81 L435.47,576.20Z" fill="url(#g5_1)" stroke="url(#g5_1)" stroke-width="0.6"/>
<path d="M462.00,586.44 L462.00,562.50 L463.87,562.51 L465.73,562.55 L467.59,562.61 L469.45,562.70 L471.31,562.82 L473.15,562.96 L475.00,563.12 L476.83,563.31 L478.65,563.53 L480.46,563.77 L482.26,564.04 L484.04,564.33 L485.81,564.65 L487.56,564.99 L489.29,565.36 L491.01,565.75 L492.70,566.17 L494.37,566.61 L496.02,567.08 L497.64,567.58 L499.24,568.09 L500.80,568.64 L502.34,569.20 L503.84,569.80 L505.31,570.41 L506.75,571.05 L508.14,571.71Z" fill="#00633a" stroke="#00633a" stroke-width="0.5" stroke-linejoin="round"/>
<path d="M462.00,586.44 L508.14,571.71 L509.48,572.39 L510.77,573.08 L512.03,573.80 L513.24,574.54 L514.41,575.31 L515.53,576.09 L516.60,576.89 L517.62,577.72 L518.59,578.56 L519.51,579.43 L520.37,580.31 L521.17,581.21 L521.91,582.13 L522.59,583.06 L523.20,584.02 L523.75,584.98 L524.24,585.96 L524.65,586.96 L524.99,587.97 L525.26,588.99 L525.45,590.02 L525.56,591.06 L525.60,592.10 L525.56,593.16 L525.43,594.22 L525.22,595.28 L524.92,596.35 L524.54,597.42 L524.07,598.49 L523.51,599.56 L522.87,600.62 L522.13,601.68 L521.30,602.73 L520.38,603.78 L519.37,604.81 L518.27,605.83 L517.07,606.83 L515.79,607.82 L514.41,608.79 L512.95,609.74 L511.40,610.66 L509.76,611.57 L508.03,612.44 L506.23,613.29 L504.34,614.10 L502.37,614.88 L500.33,615.63 L498.21,616.34 L496.03,617.01 L493.78,617.65 L491.47,618.24 L489.09,618.78 L486.67,619.29 L484.20,619.74 L481.68,620.15 L479.12,620.51 L476.52,620.82 L473.90,621.08 L471.25,621.29 L468.58,621.44 L465.90,621.54 L463.21,621.59 L460.52,621.59 L457.83,621.54 L455.15,621.43 L452.48,621.27 L449.84,621.05 L447.21,620.79 L444.62,620.48 L442.07,620.11 L439.55,619.70 L437.08,619.24 L434.66,618.73 L432.30,618.18 L429.99,617.58 L427.75,616.95 L425.57,616.27 L423.46,615.56 L421.43,614.81 L419.47,614.02 L417.59,613.20 L415.79,612.35 L414.07,611.48 L412.44,610.57 L410.90,609.64 L409.44,608.69 L408.08,607.72 L406.80,606.73 L405.62,605.72 L404.53,604.70 L403.52,603.67 L402.61,602.63 L401.79,601.57 L401.07,600.51 L400.43,599.45 L399.88,598.38 L399.42,597.31 L399.04,596.24 L398.76,595.18 L398.56,594.11 L398.44,593.05 L398.40,592.00 L398.44,590.95 L398.57,589.91 L398.77,588.88 L399.04,587.86 L399.39,586.86 L399.81,585.86 L400.30,584.88 L400.86,583.92 L401.48,582.97 L402.16,582.04 L402.91,581.12 L403.72,580.22 L404.58,579.34 L405.51,578.48 L406.48,577.63 L407.51,576.81 L408.59,576.01 L409.71,575.23 L410.88,574.47 L412.10,573.73 L413.36,573.01 L414.66,572.32Z" fill="#a3a3a3" stroke="#a3a3a3" stroke-width="0.5" stroke-linejoin="round"/>
<path d="M462.00,586.44 L414.66,572.32 L416.16,571.57 L417.71,570.84 L419.31,570.15 L420.95,569.48 L422.63,568.84 L424.35,568.24 L426.10,567.66 L427.88,567.11Z" fill="#92d050" stroke="#92d050" stroke-width="0.5" stroke-linejoin="round"/>
<path d="M462.00,586.44 L427.88,567.11 L429.63,566.61Z" fill="#8e8e8e" stroke="#8e8e8e" stroke-width="0.5" stroke-linejoin="round"/>
<path d="M462.00,586.44 L429.63,566.61 L431.40,566.15 L433.19,565.71 L435.01,565.29Z" fill="#c0d398" stroke="#c0d398" stroke-width="0.5" stroke-linejoin="round"/>
<path d="M462.00,586.44 L435.01,565.29 L436.73,564.93 L438.46,564.60 L440.21,564.29 L441.98,564.00 L443.75,563.74 L445.54,563.51 L447.34,563.30 L449.16,563.11 L450.98,562.95 L452.80,562.81 L454.63,562.70 L456.47,562.61 L458.31,562.55 L460.16,562.51 L462.00,562.50Z" fill="#4f6228" stroke="#4f6228" stroke-width="0.5" stroke-linejoin="round"/>
<path d="M425.4,530.8 L427.1,530.8 L428.5,565.8" fill="none" stroke="#1c1c1c" stroke-width="1.2" stroke-linejoin="miter"/>
<text x="416.7" y="522.6" font-size="7.8" text-anchor="middle" textLength="35.4" lengthAdjust="spacingAndGlyphs" fill="#1a1a1a" xml:space="preserve">Real Estate</text>
<text x="416.7" y="530.8" font-size="7.8" text-anchor="middle" textLength="15.8" lengthAdjust="spacingAndGlyphs" fill="#1a1a1a" xml:space="preserve">0.6%</text>
<path d="M406.7,534.0 L410.4,534.0 L420.8,568.7" fill="none" stroke="#1c1c1c" stroke-width="1.2" stroke-linejoin="miter"/>
<text x="379.5" y="534.5" font-size="7.8" text-anchor="middle" textLength="51.0" lengthAdjust="spacingAndGlyphs" fill="#1a1a1a" xml:space="preserve">Power &amp; Utilities</text>
<text x="379.5" y="542.7" font-size="7.8" text-anchor="middle" textLength="15.8" lengthAdjust="spacingAndGlyphs" fill="#1a1a1a" xml:space="preserve">5.0%</text>
<path d="M379.6,552.3 L383.3,552.3 L415.0,571.5" fill="none" stroke="#1c1c1c" stroke-width="1.2" stroke-linejoin="miter"/>
<text x="362.7" y="552.6" font-size="7.8" text-anchor="middle" textLength="29.6" lengthAdjust="spacingAndGlyphs" fill="#1a1a1a" xml:space="preserve">Oil &amp; Gas</text>
<text x="362.7" y="560.8" font-size="7.8" text-anchor="middle" textLength="15.6" lengthAdjust="spacingAndGlyphs" fill="#1a1a1a" xml:space="preserve">0.0%</text>
<path d="M387.5,576.0 L391.7,576.0 L415.0,572.0" fill="none" stroke="#1c1c1c" stroke-width="1.2" stroke-linejoin="miter"/>
<text x="377.8" y="568.2" font-size="7.8" text-anchor="middle" textLength="5.8" lengthAdjust="spacingAndGlyphs" fill="#1a1a1a" xml:space="preserve">IT</text>
<text x="377.8" y="576.1" font-size="7.8" text-anchor="middle" textLength="16.0" lengthAdjust="spacingAndGlyphs" fill="#1a1a1a" xml:space="preserve">0.1%</text>
<path d="M378.1,590.8 L382.3,590.8 L411.5,574.2" fill="none" stroke="#1c1c1c" stroke-width="1.2" stroke-linejoin="miter"/>
<text x="353.7" y="583.4" font-size="7.8" text-anchor="middle" textLength="28.3" lengthAdjust="spacingAndGlyphs" fill="#1a1a1a" xml:space="preserve">Industrial</text>
<text x="353.7" y="591.2" font-size="7.8" text-anchor="middle" textLength="44.8" lengthAdjust="spacingAndGlyphs" fill="#1a1a1a" xml:space="preserve">Manufacturing</text>
<text x="353.7" y="599.0" font-size="7.8" text-anchor="middle" textLength="16.5" lengthAdjust="spacingAndGlyphs" fill="#1a1a1a" xml:space="preserve">2.8%</text>
<path d="M442.5,535.4 L439.2,535.4 L432.5,564.6" fill="none" stroke="#1c1c1c" stroke-width="1.2" stroke-linejoin="miter"/>
<text x="452.6" y="527.2" font-size="7.8" text-anchor="middle" textLength="16.7" lengthAdjust="spacingAndGlyphs" fill="#1a1a1a" xml:space="preserve">Telco</text>
<text x="452.6" y="535.1" font-size="7.8" text-anchor="middle" textLength="15.4" lengthAdjust="spacingAndGlyphs" fill="#1a1a1a" xml:space="preserve">1.8%</text>
<path d="M469.0,535.4 L464.8,535.4 L448.1,562.1" fill="none" stroke="#1c1c1c" stroke-width="1.2" stroke-linejoin="miter"/>
<text x="478.2" y="527.2" font-size="7.8" text-anchor="middle" textLength="29.2" lengthAdjust="spacingAndGlyphs" fill="#1a1a1a" xml:space="preserve">Transport</text>
<text x="478.2" y="535.1" font-size="7.8" text-anchor="middle" textLength="15.6" lengthAdjust="spacingAndGlyphs" fill="#1a1a1a" xml:space="preserve">8.4%</text>
<path d="M487.1,542.7 L482.5,542.7 L462.1,562.1" fill="none" stroke="#1c1c1c" stroke-width="1.2" stroke-linejoin="miter"/>
<text x="504.8" y="543.4" font-size="7.8" text-anchor="middle" textLength="33.4" lengthAdjust="spacingAndGlyphs" fill="#1a1a1a" xml:space="preserve">Agriculture</text>
<text x="504.8" y="551.2" font-size="7.8" text-anchor="middle" textLength="15.4" lengthAdjust="spacingAndGlyphs" fill="#1a1a1a" xml:space="preserve">0.1%</text>
<path d="M517.9,560.0 L513.7,560.0 L487.1,564.6" fill="none" stroke="#1c1c1c" stroke-width="1.2" stroke-linejoin="miter"/>
<text x="533.5" y="551.7" font-size="7.8" text-anchor="middle" textLength="27.9" lengthAdjust="spacingAndGlyphs" fill="#1a1a1a" xml:space="preserve">Financial</text>
<text x="533.5" y="560.1" font-size="7.8" text-anchor="middle" textLength="26.3" lengthAdjust="spacingAndGlyphs" fill="#1a1a1a" xml:space="preserve">Services</text>
<text x="533.5" y="568.5" font-size="7.8" text-anchor="middle" textLength="19.8" lengthAdjust="spacingAndGlyphs" fill="#1a1a1a" xml:space="preserve">15.2%</text>
<path d="M470.0,636.8 L476.0,648.8 L480.1,648.8" fill="none" stroke="#1c1c1c" stroke-width="1.2" stroke-linejoin="miter"/>
<text x="501.2" y="651.3" font-size="7.8" text-anchor="middle" textLength="37.2" lengthAdjust="spacingAndGlyphs" fill="#1a1a1a" xml:space="preserve">Government</text>
<text x="501.2" y="659.3" font-size="7.8" text-anchor="middle" textLength="23.9" lengthAdjust="spacingAndGlyphs" fill="#1a1a1a" xml:space="preserve">66.09%</text>
<text x="14.0" y="698.0" font-size="12.5" textLength="214.0" lengthAdjust="spacingAndGlyphs" fill="#000" xml:space="preserve">Source: Zawya, IFIS, Bloomberg, KFHR</text>
</svg>
</body></html>
